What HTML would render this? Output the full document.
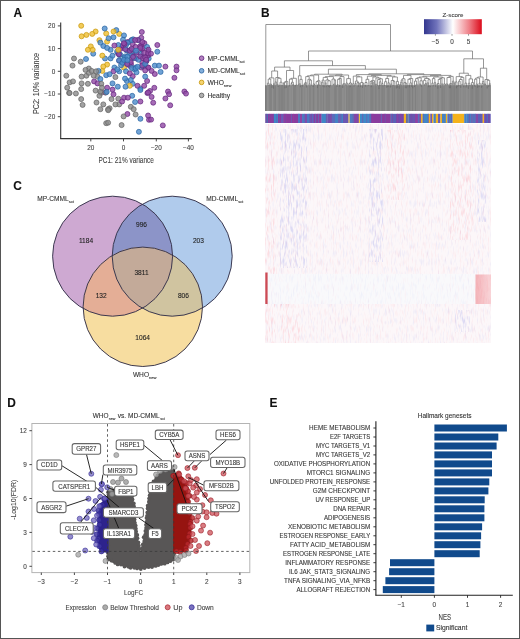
<!DOCTYPE html>
<html><head><meta charset="utf-8"><title>Figure</title>
<style>
html,body{margin:0;padding:0;background:#fff;}
body{width:520px;height:639px;overflow:hidden;}
svg{display:block;font-family:"Liberation Sans", sans-serif;will-change:transform;}
text{stroke-width:0.1px;}
</style></head><body>
<svg width="520" height="639" viewBox="0 0 520 639">
<rect width="520" height="639" fill="#fff"/>
<text x="13.5" y="17" font-size="11.9" fill="#111" stroke="#111" font-weight="bold">A</text>
<text x="261" y="16.9" font-size="11.9" fill="#111" stroke="#111" font-weight="bold">B</text>
<text x="13.2" y="190.3" font-size="11.9" fill="#111" stroke="#111" font-weight="bold">C</text>
<text x="7.2" y="406.6" font-size="11.9" fill="#111" stroke="#111" font-weight="bold">D</text>
<text x="269.6" y="406.8" font-size="11.9" fill="#111" stroke="#111" font-weight="bold">E</text>
<line x1="60.7" y1="22.4" x2="60.7" y2="139.1" stroke="#333" stroke-width="1.1"/>
<line x1="60.2" y1="138.6" x2="191.8" y2="138.6" stroke="#333" stroke-width="1.1"/>
<line x1="57.8" y1="25.9" x2="60.7" y2="25.9" stroke="#333" stroke-width="0.9"/>
<text x="55.2" y="28.2" font-size="6.4" fill="#444" stroke="#444" text-anchor="end">20</text>
<line x1="57.8" y1="48.6" x2="60.7" y2="48.6" stroke="#333" stroke-width="0.9"/>
<text x="55.2" y="50.9" font-size="6.4" fill="#444" stroke="#444" text-anchor="end">10</text>
<line x1="57.8" y1="71.3" x2="60.7" y2="71.3" stroke="#333" stroke-width="0.9"/>
<text x="55.2" y="73.6" font-size="6.4" fill="#444" stroke="#444" text-anchor="end">0</text>
<line x1="57.8" y1="94" x2="60.7" y2="94" stroke="#333" stroke-width="0.9"/>
<text x="55.2" y="96.3" font-size="6.4" fill="#444" stroke="#444" text-anchor="end">−10</text>
<line x1="57.8" y1="116.7" x2="60.7" y2="116.7" stroke="#333" stroke-width="0.9"/>
<text x="55.2" y="119" font-size="6.4" fill="#444" stroke="#444" text-anchor="end">−20</text>
<line x1="90.8" y1="138.6" x2="90.8" y2="141.4" stroke="#333" stroke-width="0.9"/>
<text x="90.8" y="150" font-size="6.4" fill="#444" stroke="#444" text-anchor="middle">20</text>
<line x1="123.5" y1="138.6" x2="123.5" y2="141.4" stroke="#333" stroke-width="0.9"/>
<text x="123.5" y="150" font-size="6.4" fill="#444" stroke="#444" text-anchor="middle">0</text>
<line x1="156.3" y1="138.6" x2="156.3" y2="141.4" stroke="#333" stroke-width="0.9"/>
<text x="156.3" y="150" font-size="6.4" fill="#444" stroke="#444" text-anchor="middle">−20</text>
<line x1="188.4" y1="138.6" x2="188.4" y2="141.4" stroke="#333" stroke-width="0.9"/>
<text x="188.4" y="150" font-size="6.4" fill="#444" stroke="#444" text-anchor="middle">−40</text>
<text x="126.2" y="162.6" font-size="8.4" fill="#444" stroke="#444" text-anchor="middle" textLength="55.3" lengthAdjust="spacingAndGlyphs">PC1: 21% variance</text>
<text transform="translate(38.8 83.5) rotate(-90)" x="0" y="0" font-size="8.8" fill="#444" stroke="#444" text-anchor="middle" textLength="61" lengthAdjust="spacingAndGlyphs">PC2: 10% variance</text>
<g stroke-width="0.75">
<circle cx="140.4" cy="88.7" r="2.5" fill="#4f8dcc" stroke="#2f69a6" fill-opacity="0.82"/>
<circle cx="107.1" cy="87.7" r="2.5" fill="#934ca6" stroke="#672a80" fill-opacity="0.82"/>
<circle cx="142.3" cy="62.7" r="2.5" fill="#934ca6" stroke="#672a80" fill-opacity="0.82"/>
<circle cx="118.3" cy="98.7" r="2.5" fill="#8e8e8e" stroke="#676767" fill-opacity="0.82"/>
<circle cx="97.5" cy="76.6" r="2.5" fill="#8e8e8e" stroke="#676767" fill-opacity="0.82"/>
<circle cx="87.9" cy="83.8" r="2.5" fill="#8e8e8e" stroke="#676767" fill-opacity="0.82"/>
<circle cx="145.9" cy="57.7" r="2.5" fill="#934ca6" stroke="#672a80" fill-opacity="0.82"/>
<circle cx="106.2" cy="123.2" r="2.5" fill="#8e8e8e" stroke="#676767" fill-opacity="0.82"/>
<circle cx="119.2" cy="33.9" r="2.5" fill="#efc034" stroke="#c99b12" fill-opacity="0.82"/>
<circle cx="146.3" cy="61.3" r="2.5" fill="#934ca6" stroke="#672a80" fill-opacity="0.82"/>
<circle cx="136.2" cy="58.4" r="2.5" fill="#934ca6" stroke="#672a80" fill-opacity="0.82"/>
<circle cx="129.9" cy="65.9" r="2.5" fill="#934ca6" stroke="#672a80" fill-opacity="0.82"/>
<circle cx="86.4" cy="75.7" r="2.5" fill="#8e8e8e" stroke="#676767" fill-opacity="0.82"/>
<circle cx="110.6" cy="49.8" r="2.5" fill="#4f8dcc" stroke="#2f69a6" fill-opacity="0.82"/>
<circle cx="110.6" cy="58.4" r="2.5" fill="#4f8dcc" stroke="#2f69a6" fill-opacity="0.82"/>
<circle cx="90.8" cy="46.4" r="2.5" fill="#efc034" stroke="#c99b12" fill-opacity="0.82"/>
<circle cx="126.6" cy="42.6" r="2.5" fill="#934ca6" stroke="#672a80" fill-opacity="0.82"/>
<circle cx="141.3" cy="37.8" r="2.5" fill="#934ca6" stroke="#672a80" fill-opacity="0.82"/>
<circle cx="147.4" cy="93.1" r="2.5" fill="#934ca6" stroke="#672a80" fill-opacity="0.82"/>
<circle cx="132.4" cy="53.5" r="2.5" fill="#934ca6" stroke="#672a80" fill-opacity="0.82"/>
<circle cx="119.4" cy="55.1" r="2.5" fill="#4f8dcc" stroke="#2f69a6" fill-opacity="0.82"/>
<circle cx="141.8" cy="32" r="2.5" fill="#934ca6" stroke="#672a80" fill-opacity="0.82"/>
<circle cx="114.4" cy="67.5" r="2.5" fill="#4f8dcc" stroke="#2f69a6" fill-opacity="0.82"/>
<circle cx="138.5" cy="59.8" r="2.5" fill="#4f8dcc" stroke="#2f69a6" fill-opacity="0.82"/>
<circle cx="142.2" cy="56.3" r="2.5" fill="#4f8dcc" stroke="#2f69a6" fill-opacity="0.82"/>
<circle cx="157.3" cy="45" r="2.5" fill="#934ca6" stroke="#672a80" fill-opacity="0.82"/>
<circle cx="100.4" cy="109.2" r="2.5" fill="#8e8e8e" stroke="#676767" fill-opacity="0.82"/>
<circle cx="69.6" cy="82.4" r="2.5" fill="#8e8e8e" stroke="#676767" fill-opacity="0.82"/>
<circle cx="148.4" cy="54.9" r="2.5" fill="#934ca6" stroke="#672a80" fill-opacity="0.82"/>
<circle cx="81.2" cy="25.8" r="2.5" fill="#efc034" stroke="#c99b12" fill-opacity="0.82"/>
<circle cx="113.5" cy="71.3" r="2.5" fill="#934ca6" stroke="#672a80" fill-opacity="0.82"/>
<circle cx="131.3" cy="40.2" r="2.5" fill="#934ca6" stroke="#672a80" fill-opacity="0.82"/>
<circle cx="113.5" cy="94.3" r="2.5" fill="#934ca6" stroke="#672a80" fill-opacity="0.82"/>
<circle cx="148.1" cy="51.7" r="2.5" fill="#934ca6" stroke="#672a80" fill-opacity="0.82"/>
<circle cx="81.6" cy="83.4" r="2.5" fill="#8e8e8e" stroke="#676767" fill-opacity="0.82"/>
<circle cx="131" cy="64.5" r="2.5" fill="#934ca6" stroke="#672a80" fill-opacity="0.82"/>
<circle cx="72.5" cy="65.6" r="2.5" fill="#8e8e8e" stroke="#676767" fill-opacity="0.82"/>
<circle cx="140.4" cy="118.8" r="2.5" fill="#4f8dcc" stroke="#2f69a6" fill-opacity="0.82"/>
<circle cx="127.9" cy="63.7" r="2.5" fill="#4f8dcc" stroke="#2f69a6" fill-opacity="0.82"/>
<circle cx="132.7" cy="83.8" r="2.5" fill="#4f8dcc" stroke="#2f69a6" fill-opacity="0.82"/>
<circle cx="125.1" cy="56.4" r="2.5" fill="#4f8dcc" stroke="#2f69a6" fill-opacity="0.82"/>
<circle cx="131.7" cy="58.8" r="2.5" fill="#934ca6" stroke="#672a80" fill-opacity="0.82"/>
<circle cx="122.1" cy="46.9" r="2.5" fill="#934ca6" stroke="#672a80" fill-opacity="0.82"/>
<circle cx="144" cy="65.6" r="2.5" fill="#934ca6" stroke="#672a80" fill-opacity="0.82"/>
<circle cx="100.4" cy="79" r="2.5" fill="#4f8dcc" stroke="#2f69a6" fill-opacity="0.82"/>
<circle cx="94.1" cy="81.4" r="2.5" fill="#934ca6" stroke="#672a80" fill-opacity="0.82"/>
<circle cx="120.4" cy="49" r="2.5" fill="#934ca6" stroke="#672a80" fill-opacity="0.82"/>
<circle cx="122.8" cy="45.4" r="2.5" fill="#934ca6" stroke="#672a80" fill-opacity="0.82"/>
<circle cx="154.3" cy="87.8" r="2.5" fill="#934ca6" stroke="#672a80" fill-opacity="0.82"/>
<circle cx="168" cy="91.5" r="2.5" fill="#934ca6" stroke="#672a80" fill-opacity="0.82"/>
<circle cx="124" cy="67.5" r="2.5" fill="#efc034" stroke="#c99b12" fill-opacity="0.82"/>
<circle cx="88.8" cy="72.8" r="2.5" fill="#8e8e8e" stroke="#676767" fill-opacity="0.82"/>
<circle cx="144.2" cy="85.8" r="2.5" fill="#934ca6" stroke="#672a80" fill-opacity="0.82"/>
<circle cx="107.1" cy="64.6" r="2.5" fill="#efc034" stroke="#c99b12" fill-opacity="0.82"/>
<circle cx="109.6" cy="108.3" r="2.5" fill="#8e8e8e" stroke="#676767" fill-opacity="0.82"/>
<circle cx="119.2" cy="104.4" r="2.5" fill="#8e8e8e" stroke="#676767" fill-opacity="0.82"/>
<circle cx="124.4" cy="58.1" r="2.5" fill="#4f8dcc" stroke="#2f69a6" fill-opacity="0.82"/>
<circle cx="106.2" cy="33.5" r="2.5" fill="#efc034" stroke="#c99b12" fill-opacity="0.82"/>
<circle cx="102.3" cy="70.9" r="2.5" fill="#efc034" stroke="#c99b12" fill-opacity="0.82"/>
<circle cx="174.4" cy="77.8" r="2.5" fill="#934ca6" stroke="#672a80" fill-opacity="0.82"/>
<circle cx="95.6" cy="90.6" r="2.5" fill="#8e8e8e" stroke="#676767" fill-opacity="0.82"/>
<circle cx="106.2" cy="75.2" r="2.5" fill="#4f8dcc" stroke="#2f69a6" fill-opacity="0.82"/>
<circle cx="130.8" cy="62.2" r="2.5" fill="#934ca6" stroke="#672a80" fill-opacity="0.82"/>
<circle cx="107.1" cy="41.6" r="2.5" fill="#efc034" stroke="#c99b12" fill-opacity="0.82"/>
<circle cx="145.9" cy="61.3" r="2.5" fill="#934ca6" stroke="#672a80" fill-opacity="0.82"/>
<circle cx="127.9" cy="50.8" r="2.5" fill="#934ca6" stroke="#672a80" fill-opacity="0.82"/>
<circle cx="131.8" cy="55.6" r="2.5" fill="#4f8dcc" stroke="#2f69a6" fill-opacity="0.82"/>
<circle cx="140.4" cy="101.5" r="2.5" fill="#934ca6" stroke="#672a80" fill-opacity="0.82"/>
<circle cx="148.1" cy="67.5" r="2.5" fill="#934ca6" stroke="#672a80" fill-opacity="0.82"/>
<circle cx="148.7" cy="58.5" r="2.5" fill="#4f8dcc" stroke="#2f69a6" fill-opacity="0.82"/>
<circle cx="73" cy="81.4" r="2.5" fill="#8e8e8e" stroke="#676767" fill-opacity="0.82"/>
<circle cx="86.4" cy="34.9" r="2.5" fill="#efc034" stroke="#c99b12" fill-opacity="0.82"/>
<circle cx="119.2" cy="60.8" r="2.5" fill="#934ca6" stroke="#672a80" fill-opacity="0.82"/>
<circle cx="103.3" cy="46" r="2.5" fill="#4f8dcc" stroke="#2f69a6" fill-opacity="0.82"/>
<circle cx="126.9" cy="81" r="2.5" fill="#4f8dcc" stroke="#2f69a6" fill-opacity="0.82"/>
<circle cx="134.4" cy="69.3" r="2.5" fill="#4f8dcc" stroke="#2f69a6" fill-opacity="0.82"/>
<circle cx="135.1" cy="102" r="2.5" fill="#4f8dcc" stroke="#2f69a6" fill-opacity="0.82"/>
<circle cx="162.8" cy="125.4" r="2.5" fill="#934ca6" stroke="#672a80" fill-opacity="0.82"/>
<circle cx="126.4" cy="50.3" r="2.5" fill="#4f8dcc" stroke="#2f69a6" fill-opacity="0.82"/>
<circle cx="141.4" cy="45.3" r="2.5" fill="#934ca6" stroke="#672a80" fill-opacity="0.82"/>
<circle cx="98.5" cy="70.9" r="2.5" fill="#4f8dcc" stroke="#2f69a6" fill-opacity="0.82"/>
<circle cx="141.9" cy="49.8" r="2.5" fill="#934ca6" stroke="#672a80" fill-opacity="0.82"/>
<circle cx="124" cy="60.8" r="2.5" fill="#4f8dcc" stroke="#2f69a6" fill-opacity="0.82"/>
<circle cx="131.8" cy="68" r="2.5" fill="#4f8dcc" stroke="#2f69a6" fill-opacity="0.82"/>
<circle cx="105" cy="58.5" r="2.5" fill="#4f8dcc" stroke="#2f69a6" fill-opacity="0.82"/>
<circle cx="88.8" cy="68.5" r="2.5" fill="#8e8e8e" stroke="#676767" fill-opacity="0.82"/>
<circle cx="135.6" cy="67.5" r="2.5" fill="#4f8dcc" stroke="#2f69a6" fill-opacity="0.82"/>
<circle cx="107.1" cy="47.9" r="2.5" fill="#4f8dcc" stroke="#2f69a6" fill-opacity="0.82"/>
<circle cx="138.5" cy="40.2" r="2.5" fill="#4f8dcc" stroke="#2f69a6" fill-opacity="0.82"/>
<circle cx="80.7" cy="61.7" r="2.5" fill="#8e8e8e" stroke="#676767" fill-opacity="0.82"/>
<circle cx="137.5" cy="85.8" r="2.5" fill="#934ca6" stroke="#672a80" fill-opacity="0.82"/>
<circle cx="119" cy="60.4" r="2.5" fill="#4f8dcc" stroke="#2f69a6" fill-opacity="0.82"/>
<circle cx="74" cy="58.5" r="2.5" fill="#8e8e8e" stroke="#676767" fill-opacity="0.82"/>
<circle cx="101" cy="92.9" r="2.5" fill="#8e8e8e" stroke="#676767" fill-opacity="0.82"/>
<circle cx="67.2" cy="87.7" r="2.5" fill="#8e8e8e" stroke="#676767" fill-opacity="0.82"/>
<circle cx="97.5" cy="83.4" r="2.5" fill="#934ca6" stroke="#672a80" fill-opacity="0.82"/>
<circle cx="105.2" cy="92.5" r="2.5" fill="#934ca6" stroke="#672a80" fill-opacity="0.82"/>
<circle cx="86" cy="59" r="2.5" fill="#4f8dcc" stroke="#2f69a6" fill-opacity="0.82"/>
<circle cx="136.5" cy="72.3" r="2.5" fill="#4f8dcc" stroke="#2f69a6" fill-opacity="0.82"/>
<circle cx="108.1" cy="109.2" r="2.5" fill="#8e8e8e" stroke="#676767" fill-opacity="0.82"/>
<circle cx="126" cy="71.3" r="2.5" fill="#4f8dcc" stroke="#2f69a6" fill-opacity="0.82"/>
<circle cx="150" cy="91" r="2.5" fill="#934ca6" stroke="#672a80" fill-opacity="0.82"/>
<circle cx="141.3" cy="67.5" r="2.5" fill="#934ca6" stroke="#672a80" fill-opacity="0.82"/>
<circle cx="138.9" cy="131.8" r="2.5" fill="#4f8dcc" stroke="#2f69a6" fill-opacity="0.82"/>
<circle cx="96.5" cy="102.5" r="2.5" fill="#8e8e8e" stroke="#676767" fill-opacity="0.82"/>
<circle cx="134" cy="57.8" r="2.5" fill="#4f8dcc" stroke="#2f69a6" fill-opacity="0.82"/>
<circle cx="99.4" cy="40.2" r="2.5" fill="#efc034" stroke="#c99b12" fill-opacity="0.82"/>
<circle cx="117.7" cy="52.8" r="2.5" fill="#934ca6" stroke="#672a80" fill-opacity="0.82"/>
<circle cx="141" cy="53.7" r="2.5" fill="#4f8dcc" stroke="#2f69a6" fill-opacity="0.82"/>
<circle cx="140.4" cy="56.5" r="2.5" fill="#934ca6" stroke="#672a80" fill-opacity="0.82"/>
<circle cx="126.9" cy="63.4" r="2.5" fill="#4f8dcc" stroke="#2f69a6" fill-opacity="0.82"/>
<circle cx="157.3" cy="51.7" r="2.5" fill="#4f8dcc" stroke="#2f69a6" fill-opacity="0.82"/>
<circle cx="102.3" cy="55.6" r="2.5" fill="#efc034" stroke="#c99b12" fill-opacity="0.82"/>
<circle cx="147.7" cy="55.6" r="2.5" fill="#934ca6" stroke="#672a80" fill-opacity="0.82"/>
<circle cx="122.1" cy="101.5" r="2.5" fill="#934ca6" stroke="#672a80" fill-opacity="0.82"/>
<circle cx="127.4" cy="114" r="2.5" fill="#934ca6" stroke="#672a80" fill-opacity="0.82"/>
<circle cx="132.7" cy="76.2" r="2.5" fill="#934ca6" stroke="#672a80" fill-opacity="0.82"/>
<circle cx="81.6" cy="76.6" r="2.5" fill="#8e8e8e" stroke="#676767" fill-opacity="0.82"/>
<circle cx="117.1" cy="51.4" r="2.5" fill="#4f8dcc" stroke="#2f69a6" fill-opacity="0.82"/>
<circle cx="130.7" cy="49.5" r="2.5" fill="#4f8dcc" stroke="#2f69a6" fill-opacity="0.82"/>
<circle cx="108.1" cy="122.7" r="2.5" fill="#8e8e8e" stroke="#676767" fill-opacity="0.82"/>
<circle cx="142.7" cy="66" r="2.5" fill="#4f8dcc" stroke="#2f69a6" fill-opacity="0.82"/>
<circle cx="123.6" cy="116.4" r="2.5" fill="#8e8e8e" stroke="#676767" fill-opacity="0.82"/>
<circle cx="125.6" cy="60.2" r="2.5" fill="#4f8dcc" stroke="#2f69a6" fill-opacity="0.82"/>
<circle cx="127.9" cy="42.1" r="2.5" fill="#934ca6" stroke="#672a80" fill-opacity="0.82"/>
<circle cx="112.5" cy="83.4" r="2.5" fill="#4f8dcc" stroke="#2f69a6" fill-opacity="0.82"/>
<circle cx="151.6" cy="96.9" r="2.5" fill="#934ca6" stroke="#672a80" fill-opacity="0.82"/>
<circle cx="125.3" cy="49.1" r="2.5" fill="#934ca6" stroke="#672a80" fill-opacity="0.82"/>
<circle cx="154.8" cy="74" r="2.5" fill="#934ca6" stroke="#672a80" fill-opacity="0.82"/>
<circle cx="176.5" cy="66.6" r="2.5" fill="#934ca6" stroke="#672a80" fill-opacity="0.82"/>
<circle cx="121.1" cy="65.2" r="2.5" fill="#4f8dcc" stroke="#2f69a6" fill-opacity="0.82"/>
<circle cx="148.1" cy="92.5" r="2.5" fill="#934ca6" stroke="#672a80" fill-opacity="0.82"/>
<circle cx="154.8" cy="65.6" r="2.5" fill="#4f8dcc" stroke="#2f69a6" fill-opacity="0.82"/>
<circle cx="142.7" cy="48.5" r="2.5" fill="#934ca6" stroke="#672a80" fill-opacity="0.82"/>
<circle cx="115.4" cy="77.1" r="2.5" fill="#8e8e8e" stroke="#676767" fill-opacity="0.82"/>
<circle cx="93.2" cy="53.7" r="2.5" fill="#4f8dcc" stroke="#2f69a6" fill-opacity="0.82"/>
<circle cx="169.1" cy="94.2" r="2.5" fill="#934ca6" stroke="#672a80" fill-opacity="0.82"/>
<circle cx="125" cy="78.6" r="2.5" fill="#4f8dcc" stroke="#2f69a6" fill-opacity="0.82"/>
<circle cx="112.5" cy="89.6" r="2.5" fill="#934ca6" stroke="#672a80" fill-opacity="0.82"/>
<circle cx="124" cy="35.4" r="2.5" fill="#4f8dcc" stroke="#2f69a6" fill-opacity="0.82"/>
<circle cx="100.4" cy="42.6" r="2.5" fill="#4f8dcc" stroke="#2f69a6" fill-opacity="0.82"/>
<circle cx="66.3" cy="75.7" r="2.5" fill="#8e8e8e" stroke="#676767" fill-opacity="0.82"/>
<circle cx="120.2" cy="54.6" r="2.5" fill="#4f8dcc" stroke="#2f69a6" fill-opacity="0.82"/>
<circle cx="91.7" cy="70.9" r="2.5" fill="#8e8e8e" stroke="#676767" fill-opacity="0.82"/>
<circle cx="87.9" cy="49.8" r="2.5" fill="#efc034" stroke="#c99b12" fill-opacity="0.82"/>
<circle cx="160.6" cy="71.9" r="2.5" fill="#4f8dcc" stroke="#2f69a6" fill-opacity="0.82"/>
<circle cx="123" cy="39.7" r="2.5" fill="#4f8dcc" stroke="#2f69a6" fill-opacity="0.82"/>
<circle cx="129.8" cy="85.8" r="2.5" fill="#efc034" stroke="#c99b12" fill-opacity="0.82"/>
<circle cx="82.6" cy="104.9" r="2.5" fill="#8e8e8e" stroke="#676767" fill-opacity="0.82"/>
<circle cx="148.5" cy="67.7" r="2.5" fill="#934ca6" stroke="#672a80" fill-opacity="0.82"/>
<circle cx="115.4" cy="104.4" r="2.5" fill="#8e8e8e" stroke="#676767" fill-opacity="0.82"/>
<circle cx="135.6" cy="114.5" r="2.5" fill="#8e8e8e" stroke="#676767" fill-opacity="0.82"/>
<circle cx="108.2" cy="110.2" r="2.5" fill="#8e8e8e" stroke="#676767" fill-opacity="0.82"/>
<circle cx="176.5" cy="70.3" r="2.5" fill="#934ca6" stroke="#672a80" fill-opacity="0.82"/>
<circle cx="140" cy="46.4" r="2.5" fill="#934ca6" stroke="#672a80" fill-opacity="0.82"/>
<circle cx="133.1" cy="39.3" r="2.5" fill="#4f8dcc" stroke="#2f69a6" fill-opacity="0.82"/>
<circle cx="132.7" cy="44" r="2.5" fill="#934ca6" stroke="#672a80" fill-opacity="0.82"/>
<circle cx="129.8" cy="53.7" r="2.5" fill="#4f8dcc" stroke="#2f69a6" fill-opacity="0.82"/>
<circle cx="118.9" cy="54.2" r="2.5" fill="#934ca6" stroke="#672a80" fill-opacity="0.82"/>
<circle cx="81.6" cy="36.3" r="2.5" fill="#efc034" stroke="#c99b12" fill-opacity="0.82"/>
<circle cx="99.4" cy="95.8" r="2.5" fill="#8e8e8e" stroke="#676767" fill-opacity="0.82"/>
<circle cx="144.2" cy="52.7" r="2.5" fill="#934ca6" stroke="#672a80" fill-opacity="0.82"/>
<circle cx="109.6" cy="74.2" r="2.5" fill="#4f8dcc" stroke="#2f69a6" fill-opacity="0.82"/>
<circle cx="95.6" cy="31.5" r="2.5" fill="#efc034" stroke="#c99b12" fill-opacity="0.82"/>
<circle cx="105.8" cy="92.5" r="2.5" fill="#8e8e8e" stroke="#676767" fill-opacity="0.82"/>
<circle cx="127.7" cy="42.8" r="2.5" fill="#4f8dcc" stroke="#2f69a6" fill-opacity="0.82"/>
<circle cx="136.1" cy="52.6" r="2.5" fill="#4f8dcc" stroke="#2f69a6" fill-opacity="0.82"/>
<circle cx="151.6" cy="70.9" r="2.5" fill="#934ca6" stroke="#672a80" fill-opacity="0.82"/>
<circle cx="130.8" cy="106.8" r="2.5" fill="#8e8e8e" stroke="#676767" fill-opacity="0.82"/>
<circle cx="133" cy="56.9" r="2.5" fill="#934ca6" stroke="#672a80" fill-opacity="0.82"/>
<circle cx="133.7" cy="109.2" r="2.5" fill="#8e8e8e" stroke="#676767" fill-opacity="0.82"/>
<circle cx="143.2" cy="58.2" r="2.5" fill="#934ca6" stroke="#672a80" fill-opacity="0.82"/>
<circle cx="184.4" cy="91.5" r="2.5" fill="#934ca6" stroke="#672a80" fill-opacity="0.82"/>
<circle cx="122.5" cy="62.7" r="2.5" fill="#4f8dcc" stroke="#2f69a6" fill-opacity="0.82"/>
<circle cx="130.8" cy="80" r="2.5" fill="#4f8dcc" stroke="#2f69a6" fill-opacity="0.82"/>
<circle cx="100.4" cy="91.5" r="2.5" fill="#8e8e8e" stroke="#676767" fill-opacity="0.82"/>
<circle cx="92.7" cy="49.8" r="2.5" fill="#efc034" stroke="#c99b12" fill-opacity="0.82"/>
<circle cx="144.4" cy="43.2" r="2.5" fill="#934ca6" stroke="#672a80" fill-opacity="0.82"/>
<circle cx="145.2" cy="70.4" r="2.5" fill="#934ca6" stroke="#672a80" fill-opacity="0.82"/>
<circle cx="159" cy="65.6" r="2.5" fill="#4f8dcc" stroke="#2f69a6" fill-opacity="0.82"/>
<circle cx="103.3" cy="66.5" r="2.5" fill="#efc034" stroke="#c99b12" fill-opacity="0.82"/>
<circle cx="101.3" cy="83.8" r="2.5" fill="#8e8e8e" stroke="#676767" fill-opacity="0.82"/>
<circle cx="186" cy="93.6" r="2.5" fill="#934ca6" stroke="#672a80" fill-opacity="0.82"/>
<circle cx="85.5" cy="69.9" r="2.5" fill="#8e8e8e" stroke="#676767" fill-opacity="0.82"/>
<circle cx="101.9" cy="87.7" r="2.5" fill="#8e8e8e" stroke="#676767" fill-opacity="0.82"/>
<circle cx="93.7" cy="75.7" r="2.5" fill="#8e8e8e" stroke="#676767" fill-opacity="0.82"/>
<circle cx="165.4" cy="98.5" r="2.5" fill="#934ca6" stroke="#672a80" fill-opacity="0.82"/>
<circle cx="96.1" cy="71.3" r="2.5" fill="#8e8e8e" stroke="#676767" fill-opacity="0.82"/>
<circle cx="148.2" cy="53.2" r="2.5" fill="#934ca6" stroke="#672a80" fill-opacity="0.82"/>
<circle cx="151" cy="53.7" r="2.5" fill="#934ca6" stroke="#672a80" fill-opacity="0.82"/>
<circle cx="112.5" cy="55.6" r="2.5" fill="#4f8dcc" stroke="#2f69a6" fill-opacity="0.82"/>
<circle cx="137.9" cy="40" r="2.5" fill="#934ca6" stroke="#672a80" fill-opacity="0.82"/>
<circle cx="126" cy="45" r="2.5" fill="#4f8dcc" stroke="#2f69a6" fill-opacity="0.82"/>
<circle cx="170.2" cy="105.3" r="2.5" fill="#934ca6" stroke="#672a80" fill-opacity="0.82"/>
<circle cx="142.1" cy="65.6" r="2.5" fill="#934ca6" stroke="#672a80" fill-opacity="0.82"/>
<circle cx="113.5" cy="37.3" r="2.5" fill="#4f8dcc" stroke="#2f69a6" fill-opacity="0.82"/>
<circle cx="124" cy="97.7" r="2.5" fill="#934ca6" stroke="#672a80" fill-opacity="0.82"/>
<circle cx="142.4" cy="42.1" r="2.5" fill="#934ca6" stroke="#672a80" fill-opacity="0.82"/>
<circle cx="92.2" cy="33.9" r="2.5" fill="#efc034" stroke="#c99b12" fill-opacity="0.82"/>
<circle cx="104.7" cy="28.5" r="2.5" fill="#4f8dcc" stroke="#2f69a6" fill-opacity="0.82"/>
<circle cx="118.3" cy="45" r="2.5" fill="#4f8dcc" stroke="#2f69a6" fill-opacity="0.82"/>
<circle cx="129.9" cy="50.8" r="2.5" fill="#934ca6" stroke="#672a80" fill-opacity="0.82"/>
<circle cx="165.4" cy="66.6" r="2.5" fill="#934ca6" stroke="#672a80" fill-opacity="0.82"/>
<circle cx="147.1" cy="46.9" r="2.5" fill="#4f8dcc" stroke="#2f69a6" fill-opacity="0.82"/>
<circle cx="75.9" cy="93.5" r="2.5" fill="#8e8e8e" stroke="#676767" fill-opacity="0.82"/>
<circle cx="132.2" cy="95.8" r="2.5" fill="#4f8dcc" stroke="#2f69a6" fill-opacity="0.82"/>
<circle cx="117.8" cy="86.7" r="2.5" fill="#4f8dcc" stroke="#2f69a6" fill-opacity="0.82"/>
<circle cx="81.2" cy="99.1" r="2.5" fill="#8e8e8e" stroke="#676767" fill-opacity="0.82"/>
<circle cx="103.3" cy="104.4" r="2.5" fill="#8e8e8e" stroke="#676767" fill-opacity="0.82"/>
<circle cx="135.6" cy="46.9" r="2.5" fill="#934ca6" stroke="#672a80" fill-opacity="0.82"/>
<circle cx="148.5" cy="49.7" r="2.5" fill="#934ca6" stroke="#672a80" fill-opacity="0.82"/>
<circle cx="127.4" cy="56.7" r="2.5" fill="#4f8dcc" stroke="#2f69a6" fill-opacity="0.82"/>
<circle cx="147.1" cy="81" r="2.5" fill="#934ca6" stroke="#672a80" fill-opacity="0.82"/>
<circle cx="69.1" cy="92.9" r="2.5" fill="#8e8e8e" stroke="#676767" fill-opacity="0.82"/>
<circle cx="140.4" cy="47.9" r="2.5" fill="#934ca6" stroke="#672a80" fill-opacity="0.82"/>
<circle cx="108.6" cy="38.3" r="2.5" fill="#4f8dcc" stroke="#2f69a6" fill-opacity="0.82"/>
<circle cx="114.4" cy="45.5" r="2.5" fill="#934ca6" stroke="#672a80" fill-opacity="0.82"/>
<circle cx="131.7" cy="48.8" r="2.5" fill="#934ca6" stroke="#672a80" fill-opacity="0.82"/>
<circle cx="118.3" cy="49.8" r="2.5" fill="#efc034" stroke="#c99b12" fill-opacity="0.82"/>
<circle cx="121.6" cy="125.1" r="2.5" fill="#8e8e8e" stroke="#676767" fill-opacity="0.82"/>
<circle cx="145.1" cy="63.8" r="2.5" fill="#4f8dcc" stroke="#2f69a6" fill-opacity="0.82"/>
<circle cx="153.2" cy="102.7" r="2.5" fill="#934ca6" stroke="#672a80" fill-opacity="0.82"/>
<circle cx="119.2" cy="71.3" r="2.5" fill="#4f8dcc" stroke="#2f69a6" fill-opacity="0.82"/>
<circle cx="145.2" cy="76.6" r="2.5" fill="#4f8dcc" stroke="#2f69a6" fill-opacity="0.82"/>
<circle cx="117.3" cy="69.4" r="2.5" fill="#4f8dcc" stroke="#2f69a6" fill-opacity="0.82"/>
<circle cx="149" cy="119.8" r="2.5" fill="#934ca6" stroke="#672a80" fill-opacity="0.82"/>
<circle cx="123.8" cy="59.8" r="2.5" fill="#4f8dcc" stroke="#2f69a6" fill-opacity="0.82"/>
<circle cx="116.3" cy="30.1" r="2.5" fill="#4f8dcc" stroke="#2f69a6" fill-opacity="0.82"/>
<circle cx="81.2" cy="89.1" r="2.5" fill="#8e8e8e" stroke="#676767" fill-opacity="0.82"/>
<circle cx="106.7" cy="91.9" r="2.5" fill="#4f8dcc" stroke="#2f69a6" fill-opacity="0.82"/>
<circle cx="127.2" cy="64.1" r="2.5" fill="#934ca6" stroke="#672a80" fill-opacity="0.82"/>
<circle cx="129.8" cy="73.3" r="2.5" fill="#934ca6" stroke="#672a80" fill-opacity="0.82"/>
<circle cx="136.5" cy="52.7" r="2.5" fill="#934ca6" stroke="#672a80" fill-opacity="0.82"/>
<circle cx="135.7" cy="68.5" r="2.5" fill="#4f8dcc" stroke="#2f69a6" fill-opacity="0.82"/>
<circle cx="137.6" cy="66.8" r="2.5" fill="#4f8dcc" stroke="#2f69a6" fill-opacity="0.82"/>
<circle cx="145.2" cy="57.5" r="2.5" fill="#934ca6" stroke="#672a80" fill-opacity="0.82"/>
<circle cx="151.1" cy="119.6" r="2.5" fill="#934ca6" stroke="#672a80" fill-opacity="0.82"/>
<circle cx="148.1" cy="115.5" r="2.5" fill="#934ca6" stroke="#672a80" fill-opacity="0.82"/>
<circle cx="136" cy="50.7" r="2.5" fill="#4f8dcc" stroke="#2f69a6" fill-opacity="0.82"/>
<circle cx="146.2" cy="59.8" r="2.5" fill="#934ca6" stroke="#672a80" fill-opacity="0.82"/>
<circle cx="124.5" cy="44.3" r="2.5" fill="#934ca6" stroke="#672a80" fill-opacity="0.82"/>
<circle cx="131.7" cy="40.2" r="2.5" fill="#4f8dcc" stroke="#2f69a6" fill-opacity="0.82"/>
<circle cx="140.4" cy="90" r="2.5" fill="#4f8dcc" stroke="#2f69a6" fill-opacity="0.82"/>
<circle cx="127.4" cy="60.2" r="2.5" fill="#4f8dcc" stroke="#2f69a6" fill-opacity="0.82"/>
<circle cx="113.5" cy="31.5" r="2.5" fill="#efc034" stroke="#c99b12" fill-opacity="0.82"/>
<circle cx="111.5" cy="99.1" r="2.5" fill="#8e8e8e" stroke="#676767" fill-opacity="0.82"/>
<circle cx="135.1" cy="40" r="2.5" fill="#934ca6" stroke="#672a80" fill-opacity="0.82"/>
<circle cx="69.6" cy="93" r="2.5" fill="#8e8e8e" stroke="#676767" fill-opacity="0.82"/>
<circle cx="127.9" cy="97.7" r="2.5" fill="#934ca6" stroke="#672a80" fill-opacity="0.82"/>
<circle cx="123.9" cy="43.2" r="2.5" fill="#934ca6" stroke="#672a80" fill-opacity="0.82"/>
<circle cx="125.5" cy="86.7" r="2.5" fill="#4f8dcc" stroke="#2f69a6" fill-opacity="0.82"/>
</g>
<circle cx="201.6" cy="58.2" r="2.3" fill="#934ca6" fill-opacity="0.7" stroke="#672a80" stroke-width="0.9"/>
<text x="207.5" y="60.6" font-size="6.7" fill="#333" stroke="#333">MP-CMML<tspan font-size="4.1" dy="2.0">sct</tspan></text>
<circle cx="201.6" cy="70.8" r="2.3" fill="#4f8dcc" fill-opacity="0.7" stroke="#2f69a6" stroke-width="0.9"/>
<text x="207.5" y="73.2" font-size="6.7" fill="#333" stroke="#333">MD-CMML<tspan font-size="4.1" dy="2.0">sct</tspan></text>
<circle cx="201.6" cy="82.4" r="2.3" fill="#efc034" fill-opacity="0.7" stroke="#c99b12" stroke-width="0.9"/>
<text x="207.5" y="84.8" font-size="6.7" fill="#333" stroke="#333">WHO<tspan font-size="4.1" dy="2.0">new</tspan></text>
<circle cx="201.6" cy="95.4" r="2.3" fill="#8e8e8e" fill-opacity="0.7" stroke="#676767" stroke-width="0.9"/>
<text x="207.5" y="97.8" font-size="6.7" fill="#333" stroke="#333">Healthy</text>
<rect x="265.3" y="85.3" width="225.5" height="25.7" fill="#878787"/>
<g stroke-width="0.7">
<line x1="265.5" y1="85.3" x2="265.5" y2="111" stroke="#808080"/>
<line x1="267.5" y1="85.3" x2="267.5" y2="111" stroke="#929292"/>
<line x1="268.8" y1="85.3" x2="268.8" y2="111" stroke="#929292"/>
<line x1="269.9" y1="85.3" x2="269.9" y2="111" stroke="#7c7c7c"/>
<line x1="271.2" y1="85.3" x2="271.2" y2="111" stroke="#808080"/>
<line x1="272.5" y1="85.3" x2="272.5" y2="111" stroke="#929292"/>
<line x1="274.3" y1="85.3" x2="274.3" y2="111" stroke="#808080"/>
<line x1="275.5" y1="85.3" x2="275.5" y2="111" stroke="#7c7c7c"/>
<line x1="276.7" y1="85.3" x2="276.7" y2="111" stroke="#8f8f8f"/>
<line x1="277.8" y1="85.3" x2="277.8" y2="111" stroke="#8f8f8f"/>
<line x1="279.2" y1="85.3" x2="279.2" y2="111" stroke="#7c7c7c"/>
<line x1="281.3" y1="85.3" x2="281.3" y2="111" stroke="#7c7c7c"/>
<line x1="282.7" y1="85.3" x2="282.7" y2="111" stroke="#7c7c7c"/>
<line x1="284.3" y1="85.3" x2="284.3" y2="111" stroke="#808080"/>
<line x1="286" y1="85.3" x2="286" y2="111" stroke="#8f8f8f"/>
<line x1="287.9" y1="85.3" x2="287.9" y2="111" stroke="#808080"/>
<line x1="289.8" y1="85.3" x2="289.8" y2="111" stroke="#929292"/>
<line x1="290.9" y1="85.3" x2="290.9" y2="111" stroke="#929292"/>
<line x1="292.5" y1="85.3" x2="292.5" y2="111" stroke="#929292"/>
<line x1="293.6" y1="85.3" x2="293.6" y2="111" stroke="#808080"/>
<line x1="295" y1="85.3" x2="295" y2="111" stroke="#7c7c7c"/>
<line x1="297.1" y1="85.3" x2="297.1" y2="111" stroke="#8f8f8f"/>
<line x1="298.2" y1="85.3" x2="298.2" y2="111" stroke="#8f8f8f"/>
<line x1="300.4" y1="85.3" x2="300.4" y2="111" stroke="#929292"/>
<line x1="301.4" y1="85.3" x2="301.4" y2="111" stroke="#7c7c7c"/>
<line x1="303.4" y1="85.3" x2="303.4" y2="111" stroke="#8f8f8f"/>
<line x1="305.3" y1="85.3" x2="305.3" y2="111" stroke="#8f8f8f"/>
<line x1="306.6" y1="85.3" x2="306.6" y2="111" stroke="#929292"/>
<line x1="308.7" y1="85.3" x2="308.7" y2="111" stroke="#929292"/>
<line x1="309.9" y1="85.3" x2="309.9" y2="111" stroke="#7c7c7c"/>
<line x1="312" y1="85.3" x2="312" y2="111" stroke="#929292"/>
<line x1="313.4" y1="85.3" x2="313.4" y2="111" stroke="#7c7c7c"/>
<line x1="315.3" y1="85.3" x2="315.3" y2="111" stroke="#929292"/>
<line x1="316.3" y1="85.3" x2="316.3" y2="111" stroke="#929292"/>
<line x1="317.9" y1="85.3" x2="317.9" y2="111" stroke="#7c7c7c"/>
<line x1="319.8" y1="85.3" x2="319.8" y2="111" stroke="#929292"/>
<line x1="321.1" y1="85.3" x2="321.1" y2="111" stroke="#808080"/>
<line x1="322.1" y1="85.3" x2="322.1" y2="111" stroke="#8f8f8f"/>
<line x1="323.6" y1="85.3" x2="323.6" y2="111" stroke="#808080"/>
<line x1="324.8" y1="85.3" x2="324.8" y2="111" stroke="#929292"/>
<line x1="326.9" y1="85.3" x2="326.9" y2="111" stroke="#7c7c7c"/>
<line x1="329" y1="85.3" x2="329" y2="111" stroke="#7c7c7c"/>
<line x1="331" y1="85.3" x2="331" y2="111" stroke="#929292"/>
<line x1="333" y1="85.3" x2="333" y2="111" stroke="#929292"/>
<line x1="335" y1="85.3" x2="335" y2="111" stroke="#7c7c7c"/>
<line x1="336.2" y1="85.3" x2="336.2" y2="111" stroke="#808080"/>
<line x1="337.3" y1="85.3" x2="337.3" y2="111" stroke="#929292"/>
<line x1="339.3" y1="85.3" x2="339.3" y2="111" stroke="#808080"/>
<line x1="340.9" y1="85.3" x2="340.9" y2="111" stroke="#7c7c7c"/>
<line x1="342.5" y1="85.3" x2="342.5" y2="111" stroke="#8f8f8f"/>
<line x1="343.8" y1="85.3" x2="343.8" y2="111" stroke="#929292"/>
<line x1="345.5" y1="85.3" x2="345.5" y2="111" stroke="#929292"/>
<line x1="346.5" y1="85.3" x2="346.5" y2="111" stroke="#808080"/>
<line x1="348.3" y1="85.3" x2="348.3" y2="111" stroke="#808080"/>
<line x1="349.5" y1="85.3" x2="349.5" y2="111" stroke="#808080"/>
<line x1="351.1" y1="85.3" x2="351.1" y2="111" stroke="#808080"/>
<line x1="352.2" y1="85.3" x2="352.2" y2="111" stroke="#808080"/>
<line x1="354.1" y1="85.3" x2="354.1" y2="111" stroke="#8f8f8f"/>
<line x1="355.7" y1="85.3" x2="355.7" y2="111" stroke="#8f8f8f"/>
<line x1="357.9" y1="85.3" x2="357.9" y2="111" stroke="#7c7c7c"/>
<line x1="360" y1="85.3" x2="360" y2="111" stroke="#808080"/>
<line x1="361.1" y1="85.3" x2="361.1" y2="111" stroke="#929292"/>
<line x1="363.3" y1="85.3" x2="363.3" y2="111" stroke="#8f8f8f"/>
<line x1="365.4" y1="85.3" x2="365.4" y2="111" stroke="#8f8f8f"/>
<line x1="367.1" y1="85.3" x2="367.1" y2="111" stroke="#929292"/>
<line x1="368.3" y1="85.3" x2="368.3" y2="111" stroke="#8f8f8f"/>
<line x1="369.7" y1="85.3" x2="369.7" y2="111" stroke="#929292"/>
<line x1="371.2" y1="85.3" x2="371.2" y2="111" stroke="#7c7c7c"/>
<line x1="372.8" y1="85.3" x2="372.8" y2="111" stroke="#7c7c7c"/>
<line x1="374.1" y1="85.3" x2="374.1" y2="111" stroke="#8f8f8f"/>
<line x1="375.6" y1="85.3" x2="375.6" y2="111" stroke="#808080"/>
<line x1="377.6" y1="85.3" x2="377.6" y2="111" stroke="#8f8f8f"/>
<line x1="379.3" y1="85.3" x2="379.3" y2="111" stroke="#808080"/>
<line x1="380.8" y1="85.3" x2="380.8" y2="111" stroke="#929292"/>
<line x1="382.1" y1="85.3" x2="382.1" y2="111" stroke="#7c7c7c"/>
<line x1="384.1" y1="85.3" x2="384.1" y2="111" stroke="#808080"/>
<line x1="385.5" y1="85.3" x2="385.5" y2="111" stroke="#929292"/>
<line x1="386.8" y1="85.3" x2="386.8" y2="111" stroke="#929292"/>
<line x1="387.9" y1="85.3" x2="387.9" y2="111" stroke="#7c7c7c"/>
<line x1="388.9" y1="85.3" x2="388.9" y2="111" stroke="#808080"/>
<line x1="390.8" y1="85.3" x2="390.8" y2="111" stroke="#929292"/>
<line x1="392.5" y1="85.3" x2="392.5" y2="111" stroke="#7c7c7c"/>
<line x1="394.5" y1="85.3" x2="394.5" y2="111" stroke="#7c7c7c"/>
<line x1="396" y1="85.3" x2="396" y2="111" stroke="#8f8f8f"/>
<line x1="398" y1="85.3" x2="398" y2="111" stroke="#7c7c7c"/>
<line x1="400.1" y1="85.3" x2="400.1" y2="111" stroke="#7c7c7c"/>
<line x1="401.6" y1="85.3" x2="401.6" y2="111" stroke="#7c7c7c"/>
<line x1="403.5" y1="85.3" x2="403.5" y2="111" stroke="#7c7c7c"/>
<line x1="404.7" y1="85.3" x2="404.7" y2="111" stroke="#929292"/>
<line x1="406" y1="85.3" x2="406" y2="111" stroke="#929292"/>
<line x1="408.1" y1="85.3" x2="408.1" y2="111" stroke="#808080"/>
<line x1="409.6" y1="85.3" x2="409.6" y2="111" stroke="#7c7c7c"/>
<line x1="411.3" y1="85.3" x2="411.3" y2="111" stroke="#929292"/>
<line x1="412.4" y1="85.3" x2="412.4" y2="111" stroke="#7c7c7c"/>
<line x1="414.1" y1="85.3" x2="414.1" y2="111" stroke="#929292"/>
<line x1="415.5" y1="85.3" x2="415.5" y2="111" stroke="#7c7c7c"/>
<line x1="416.9" y1="85.3" x2="416.9" y2="111" stroke="#8f8f8f"/>
<line x1="419" y1="85.3" x2="419" y2="111" stroke="#929292"/>
<line x1="420.5" y1="85.3" x2="420.5" y2="111" stroke="#929292"/>
<line x1="421.8" y1="85.3" x2="421.8" y2="111" stroke="#808080"/>
<line x1="423.2" y1="85.3" x2="423.2" y2="111" stroke="#8f8f8f"/>
<line x1="424.8" y1="85.3" x2="424.8" y2="111" stroke="#8f8f8f"/>
<line x1="426" y1="85.3" x2="426" y2="111" stroke="#8f8f8f"/>
<line x1="428" y1="85.3" x2="428" y2="111" stroke="#7c7c7c"/>
<line x1="429.5" y1="85.3" x2="429.5" y2="111" stroke="#808080"/>
<line x1="431.4" y1="85.3" x2="431.4" y2="111" stroke="#8f8f8f"/>
<line x1="433.2" y1="85.3" x2="433.2" y2="111" stroke="#8f8f8f"/>
<line x1="434.4" y1="85.3" x2="434.4" y2="111" stroke="#929292"/>
<line x1="436" y1="85.3" x2="436" y2="111" stroke="#929292"/>
<line x1="438.2" y1="85.3" x2="438.2" y2="111" stroke="#808080"/>
<line x1="439.3" y1="85.3" x2="439.3" y2="111" stroke="#8f8f8f"/>
<line x1="440.5" y1="85.3" x2="440.5" y2="111" stroke="#8f8f8f"/>
<line x1="442.4" y1="85.3" x2="442.4" y2="111" stroke="#808080"/>
<line x1="444.1" y1="85.3" x2="444.1" y2="111" stroke="#808080"/>
<line x1="446" y1="85.3" x2="446" y2="111" stroke="#8f8f8f"/>
<line x1="447.3" y1="85.3" x2="447.3" y2="111" stroke="#8f8f8f"/>
<line x1="448.9" y1="85.3" x2="448.9" y2="111" stroke="#8f8f8f"/>
<line x1="450.3" y1="85.3" x2="450.3" y2="111" stroke="#7c7c7c"/>
<line x1="451.7" y1="85.3" x2="451.7" y2="111" stroke="#7c7c7c"/>
<line x1="453.3" y1="85.3" x2="453.3" y2="111" stroke="#808080"/>
<line x1="454.6" y1="85.3" x2="454.6" y2="111" stroke="#7c7c7c"/>
<line x1="456.7" y1="85.3" x2="456.7" y2="111" stroke="#7c7c7c"/>
<line x1="458" y1="85.3" x2="458" y2="111" stroke="#808080"/>
<line x1="459.4" y1="85.3" x2="459.4" y2="111" stroke="#8f8f8f"/>
<line x1="461.3" y1="85.3" x2="461.3" y2="111" stroke="#929292"/>
<line x1="462.8" y1="85.3" x2="462.8" y2="111" stroke="#929292"/>
<line x1="464.9" y1="85.3" x2="464.9" y2="111" stroke="#8f8f8f"/>
<line x1="466.4" y1="85.3" x2="466.4" y2="111" stroke="#929292"/>
<line x1="467.7" y1="85.3" x2="467.7" y2="111" stroke="#8f8f8f"/>
<line x1="469.3" y1="85.3" x2="469.3" y2="111" stroke="#929292"/>
<line x1="471.3" y1="85.3" x2="471.3" y2="111" stroke="#808080"/>
<line x1="472.8" y1="85.3" x2="472.8" y2="111" stroke="#7c7c7c"/>
<line x1="474.1" y1="85.3" x2="474.1" y2="111" stroke="#8f8f8f"/>
<line x1="476.2" y1="85.3" x2="476.2" y2="111" stroke="#7c7c7c"/>
<line x1="477.2" y1="85.3" x2="477.2" y2="111" stroke="#7c7c7c"/>
<line x1="478.7" y1="85.3" x2="478.7" y2="111" stroke="#808080"/>
<line x1="480.2" y1="85.3" x2="480.2" y2="111" stroke="#929292"/>
<line x1="482" y1="85.3" x2="482" y2="111" stroke="#808080"/>
<line x1="484.1" y1="85.3" x2="484.1" y2="111" stroke="#8f8f8f"/>
<line x1="486" y1="85.3" x2="486" y2="111" stroke="#8f8f8f"/>
<line x1="487.2" y1="85.3" x2="487.2" y2="111" stroke="#929292"/>
<line x1="489.1" y1="85.3" x2="489.1" y2="111" stroke="#8f8f8f"/>
<line x1="490.3" y1="85.3" x2="490.3" y2="111" stroke="#808080"/>
</g>
<g stroke="#6a6a6a" stroke-width="0.7" fill="none">
<line x1="265.8" y1="24.5" x2="390.5" y2="24.5"/>
<line x1="265.8" y1="24.5" x2="265.8" y2="111"/>
<line x1="390.5" y1="24.5" x2="390.5" y2="51"/>
<line x1="308.5" y1="51" x2="472.5" y2="51"/>
<line x1="308.5" y1="51" x2="308.5" y2="60.8"/>
<line x1="472.5" y1="51" x2="472.5" y2="58.8"/>
<line x1="284.4" y1="60.8" x2="332.5" y2="60.8"/>
<line x1="284.4" y1="60.8" x2="284.4" y2="67.1"/>
<line x1="332.5" y1="60.8" x2="332.5" y2="65.6"/>
<line x1="267.4" y1="83.2" x2="267.4" y2="85.5"/>
<line x1="268.5" y1="85" x2="268.5" y2="85.5"/>
<line x1="269.5" y1="85" x2="269.5" y2="85.5"/>
<line x1="268.5" y1="85" x2="269.5" y2="85"/>
<line x1="269" y1="83.2" x2="269" y2="85"/>
<line x1="267.4" y1="83.2" x2="269" y2="83.2"/>
<line x1="268.2" y1="79.1" x2="268.2" y2="83.2"/>
<line x1="270.2" y1="84.1" x2="270.2" y2="85.5"/>
<line x1="270.9" y1="84.9" x2="270.9" y2="85.5"/>
<line x1="271.6" y1="87.3" x2="271.6" y2="87.3"/>
<line x1="272.4" y1="87.3" x2="272.4" y2="87.3"/>
<line x1="271.6" y1="87.3" x2="272.4" y2="87.3"/>
<line x1="272" y1="84.9" x2="272" y2="87.3"/>
<line x1="270.9" y1="84.9" x2="272" y2="84.9"/>
<line x1="271.4" y1="84.1" x2="271.4" y2="84.9"/>
<line x1="270.2" y1="84.1" x2="271.4" y2="84.1"/>
<line x1="270.8" y1="79.1" x2="270.8" y2="84.1"/>
<line x1="268.2" y1="79.1" x2="270.8" y2="79.1"/>
<line x1="269.5" y1="77.9" x2="269.5" y2="79.1"/>
<line x1="273.1" y1="88.2" x2="273.1" y2="88.2"/>
<line x1="273.9" y1="88.2" x2="273.9" y2="88.2"/>
<line x1="273.1" y1="88.2" x2="273.9" y2="88.2"/>
<line x1="273.5" y1="83.6" x2="273.5" y2="88.2"/>
<line x1="274.3" y1="83.6" x2="274.3" y2="85.5"/>
<line x1="273.5" y1="83.6" x2="274.3" y2="83.6"/>
<line x1="273.9" y1="77.9" x2="273.9" y2="83.6"/>
<line x1="269.5" y1="77.9" x2="273.9" y2="77.9"/>
<line x1="271.7" y1="71" x2="271.7" y2="77.9"/>
<line x1="275.2" y1="81.9" x2="275.2" y2="85.5"/>
<line x1="276.4" y1="81.9" x2="276.4" y2="85.5"/>
<line x1="275.2" y1="81.9" x2="276.4" y2="81.9"/>
<line x1="275.8" y1="77.5" x2="275.8" y2="81.9"/>
<line x1="277.2" y1="84.3" x2="277.2" y2="85.5"/>
<line x1="277.8" y1="86.4" x2="277.8" y2="86.4"/>
<line x1="278.5" y1="86.4" x2="278.5" y2="86.4"/>
<line x1="277.8" y1="86.4" x2="278.5" y2="86.4"/>
<line x1="278.1" y1="84.3" x2="278.1" y2="86.4"/>
<line x1="277.2" y1="84.3" x2="278.1" y2="84.3"/>
<line x1="277.7" y1="78.3" x2="277.7" y2="84.3"/>
<line x1="279.4" y1="85.1" x2="279.4" y2="85.5"/>
<line x1="280.5" y1="85.1" x2="280.5" y2="85.5"/>
<line x1="279.4" y1="85.1" x2="280.5" y2="85.1"/>
<line x1="280" y1="82.2" x2="280" y2="85.1"/>
<line x1="281.5" y1="85.4" x2="281.5" y2="85.5"/>
<line x1="282.5" y1="85.4" x2="282.5" y2="85.5"/>
<line x1="281.5" y1="85.4" x2="282.5" y2="85.4"/>
<line x1="282" y1="82.2" x2="282" y2="85.4"/>
<line x1="280" y1="82.2" x2="282" y2="82.2"/>
<line x1="281" y1="78.3" x2="281" y2="82.2"/>
<line x1="277.7" y1="78.3" x2="281" y2="78.3"/>
<line x1="279.3" y1="77.5" x2="279.3" y2="78.3"/>
<line x1="275.8" y1="77.5" x2="279.3" y2="77.5"/>
<line x1="277.6" y1="71" x2="277.6" y2="77.5"/>
<line x1="271.7" y1="71" x2="277.6" y2="71"/>
<line x1="283.4" y1="83" x2="283.4" y2="85.5"/>
<line x1="284.1" y1="84.8" x2="284.1" y2="85.5"/>
<line x1="284.6" y1="88" x2="284.6" y2="88"/>
<line x1="285.3" y1="88" x2="285.3" y2="88"/>
<line x1="284.6" y1="88" x2="285.3" y2="88"/>
<line x1="284.9" y1="84.8" x2="284.9" y2="88"/>
<line x1="284.1" y1="84.8" x2="284.9" y2="84.8"/>
<line x1="284.5" y1="83" x2="284.5" y2="84.8"/>
<line x1="283.4" y1="83" x2="284.5" y2="83"/>
<line x1="284" y1="82.2" x2="284" y2="83"/>
<line x1="286" y1="87.3" x2="286" y2="87.3"/>
<line x1="286.8" y1="87.3" x2="286.8" y2="87.3"/>
<line x1="286" y1="87.3" x2="286.8" y2="87.3"/>
<line x1="286.4" y1="82.2" x2="286.4" y2="87.3"/>
<line x1="284" y1="82.2" x2="286.4" y2="82.2"/>
<line x1="285.2" y1="81.4" x2="285.2" y2="82.2"/>
<line x1="287.8" y1="81.4" x2="287.8" y2="85.5"/>
<line x1="285.2" y1="81.4" x2="287.8" y2="81.4"/>
<line x1="286.5" y1="70.5" x2="286.5" y2="81.4"/>
<line x1="288.8" y1="86" x2="288.8" y2="86"/>
<line x1="289.9" y1="86" x2="289.9" y2="86"/>
<line x1="288.8" y1="86" x2="289.9" y2="86"/>
<line x1="289.4" y1="79.1" x2="289.4" y2="86"/>
<line x1="291" y1="83.5" x2="291" y2="85.5"/>
<line x1="292" y1="83.5" x2="292" y2="85.5"/>
<line x1="291" y1="83.5" x2="292" y2="83.5"/>
<line x1="291.5" y1="82.3" x2="291.5" y2="83.5"/>
<line x1="292.8" y1="84.7" x2="292.8" y2="85.5"/>
<line x1="293.6" y1="85.5" x2="293.6" y2="85.5"/>
<line x1="294.4" y1="85.5" x2="294.4" y2="85.5"/>
<line x1="293.6" y1="85.5" x2="294.4" y2="85.5"/>
<line x1="294" y1="84.7" x2="294" y2="85.5"/>
<line x1="292.8" y1="84.7" x2="294" y2="84.7"/>
<line x1="293.4" y1="82.3" x2="293.4" y2="84.7"/>
<line x1="291.5" y1="82.3" x2="293.4" y2="82.3"/>
<line x1="292.4" y1="79.1" x2="292.4" y2="82.3"/>
<line x1="289.4" y1="79.1" x2="292.4" y2="79.1"/>
<line x1="290.9" y1="78.3" x2="290.9" y2="79.1"/>
<line x1="295.1" y1="85.8" x2="295.1" y2="85.8"/>
<line x1="296" y1="85.8" x2="296" y2="85.8"/>
<line x1="295.1" y1="85.8" x2="296" y2="85.8"/>
<line x1="295.6" y1="85" x2="295.6" y2="85.8"/>
<line x1="297" y1="85" x2="297" y2="85.5"/>
<line x1="295.6" y1="85" x2="297" y2="85"/>
<line x1="296.3" y1="78.3" x2="296.3" y2="85"/>
<line x1="290.9" y1="78.3" x2="296.3" y2="78.3"/>
<line x1="293.6" y1="70.5" x2="293.6" y2="78.3"/>
<line x1="286.5" y1="70.5" x2="293.6" y2="70.5"/>
<line x1="274.6" y1="67.1" x2="290" y2="67.1"/>
<line x1="274.6" y1="67.1" x2="274.6" y2="71"/>
<line x1="290" y1="67.1" x2="290" y2="70.5"/>
<line x1="298" y1="84.6" x2="298" y2="85.5"/>
<line x1="298.8" y1="84.6" x2="298.8" y2="85.5"/>
<line x1="298" y1="84.6" x2="298.8" y2="84.6"/>
<line x1="298.4" y1="75.8" x2="298.4" y2="84.6"/>
<line x1="299.4" y1="83.7" x2="299.4" y2="85.5"/>
<line x1="300" y1="86.8" x2="300" y2="86.8"/>
<line x1="300.9" y1="86.8" x2="300.9" y2="86.8"/>
<line x1="300" y1="86.8" x2="300.9" y2="86.8"/>
<line x1="300.4" y1="83.7" x2="300.4" y2="86.8"/>
<line x1="299.4" y1="83.7" x2="300.4" y2="83.7"/>
<line x1="299.9" y1="79.4" x2="299.9" y2="83.7"/>
<line x1="301.7" y1="85.2" x2="301.7" y2="85.5"/>
<line x1="302.2" y1="86.1" x2="302.2" y2="86.1"/>
<line x1="303" y1="86.1" x2="303" y2="86.1"/>
<line x1="302.2" y1="86.1" x2="303" y2="86.1"/>
<line x1="302.6" y1="85.2" x2="302.6" y2="86.1"/>
<line x1="301.7" y1="85.2" x2="302.6" y2="85.2"/>
<line x1="302.2" y1="79.4" x2="302.2" y2="85.2"/>
<line x1="299.9" y1="79.4" x2="302.2" y2="79.4"/>
<line x1="301.1" y1="75.8" x2="301.1" y2="79.4"/>
<line x1="298.4" y1="75.8" x2="301.1" y2="75.8"/>
<line x1="299.7" y1="65.6" x2="365.4" y2="65.6"/>
<line x1="299.7" y1="65.6" x2="299.7" y2="75.8"/>
<line x1="365.4" y1="65.6" x2="365.4" y2="69.2"/>
<line x1="303.8" y1="84.5" x2="303.8" y2="85.5"/>
<line x1="304.7" y1="84.5" x2="304.7" y2="85.5"/>
<line x1="303.8" y1="84.5" x2="304.7" y2="84.5"/>
<line x1="304.3" y1="83.4" x2="304.3" y2="84.5"/>
<line x1="305.5" y1="83.4" x2="305.5" y2="85.5"/>
<line x1="304.3" y1="83.4" x2="305.5" y2="83.4"/>
<line x1="304.9" y1="82.6" x2="304.9" y2="83.4"/>
<line x1="306" y1="87.1" x2="306" y2="87.1"/>
<line x1="306.8" y1="87.1" x2="306.8" y2="87.1"/>
<line x1="306" y1="87.1" x2="306.8" y2="87.1"/>
<line x1="306.4" y1="82.6" x2="306.4" y2="87.1"/>
<line x1="304.9" y1="82.6" x2="306.4" y2="82.6"/>
<line x1="305.7" y1="76.6" x2="305.7" y2="82.6"/>
<line x1="307.9" y1="79.3" x2="307.9" y2="85.5"/>
<line x1="309.1" y1="83.8" x2="309.1" y2="85.5"/>
<line x1="310.1" y1="83.8" x2="310.1" y2="85.5"/>
<line x1="309.1" y1="83.8" x2="310.1" y2="83.8"/>
<line x1="309.6" y1="80.1" x2="309.6" y2="83.8"/>
<line x1="311" y1="85.3" x2="311" y2="85.5"/>
<line x1="311.8" y1="85.3" x2="311.8" y2="85.5"/>
<line x1="311" y1="85.3" x2="311.8" y2="85.3"/>
<line x1="311.4" y1="80.1" x2="311.4" y2="85.3"/>
<line x1="309.6" y1="80.1" x2="311.4" y2="80.1"/>
<line x1="310.5" y1="79.3" x2="310.5" y2="80.1"/>
<line x1="307.9" y1="79.3" x2="310.5" y2="79.3"/>
<line x1="309.2" y1="76.6" x2="309.2" y2="79.3"/>
<line x1="305.7" y1="76.6" x2="309.2" y2="76.6"/>
<line x1="307.4" y1="75.8" x2="307.4" y2="76.6"/>
<line x1="312.8" y1="86.4" x2="312.8" y2="86.4"/>
<line x1="313.6" y1="86.4" x2="313.6" y2="86.4"/>
<line x1="312.8" y1="86.4" x2="313.6" y2="86.4"/>
<line x1="313.2" y1="83.9" x2="313.2" y2="86.4"/>
<line x1="314.1" y1="84.8" x2="314.1" y2="85.5"/>
<line x1="314.9" y1="84.8" x2="314.9" y2="85.5"/>
<line x1="314.1" y1="84.8" x2="314.9" y2="84.8"/>
<line x1="314.5" y1="83.9" x2="314.5" y2="84.8"/>
<line x1="313.2" y1="83.9" x2="314.5" y2="83.9"/>
<line x1="313.8" y1="75.8" x2="313.8" y2="83.9"/>
<line x1="307.4" y1="75.8" x2="313.8" y2="75.8"/>
<line x1="310.6" y1="75" x2="310.6" y2="75.8"/>
<line x1="316.1" y1="81.6" x2="316.1" y2="85.5"/>
<line x1="317.1" y1="87.6" x2="317.1" y2="87.6"/>
<line x1="317.9" y1="87.6" x2="317.9" y2="87.6"/>
<line x1="317.1" y1="87.6" x2="317.9" y2="87.6"/>
<line x1="317.5" y1="85" x2="317.5" y2="87.6"/>
<line x1="318.5" y1="85" x2="318.5" y2="85.5"/>
<line x1="317.5" y1="85" x2="318.5" y2="85"/>
<line x1="318" y1="84.2" x2="318" y2="85"/>
<line x1="319" y1="84.2" x2="319" y2="85.5"/>
<line x1="318" y1="84.2" x2="319" y2="84.2"/>
<line x1="318.5" y1="81.6" x2="318.5" y2="84.2"/>
<line x1="316.1" y1="81.6" x2="318.5" y2="81.6"/>
<line x1="317.3" y1="80.8" x2="317.3" y2="81.6"/>
<line x1="319.6" y1="85.4" x2="319.6" y2="85.5"/>
<line x1="320.4" y1="85.4" x2="320.4" y2="85.5"/>
<line x1="319.6" y1="85.4" x2="320.4" y2="85.4"/>
<line x1="320" y1="80.8" x2="320" y2="85.4"/>
<line x1="317.3" y1="80.8" x2="320" y2="80.8"/>
<line x1="318.6" y1="75" x2="318.6" y2="80.8"/>
<line x1="310.6" y1="75" x2="318.6" y2="75"/>
<line x1="314.6" y1="74.2" x2="314.6" y2="75"/>
<line x1="321.5" y1="82.2" x2="321.5" y2="85.5"/>
<line x1="322.5" y1="86.1" x2="322.5" y2="86.1"/>
<line x1="323.3" y1="86.1" x2="323.3" y2="86.1"/>
<line x1="322.5" y1="86.1" x2="323.3" y2="86.1"/>
<line x1="322.9" y1="82.2" x2="322.9" y2="86.1"/>
<line x1="321.5" y1="82.2" x2="322.9" y2="82.2"/>
<line x1="322.2" y1="80.1" x2="322.2" y2="82.2"/>
<line x1="323.8" y1="87" x2="323.8" y2="87"/>
<line x1="324.5" y1="87" x2="324.5" y2="87"/>
<line x1="323.8" y1="87" x2="324.5" y2="87"/>
<line x1="324.1" y1="80.1" x2="324.1" y2="87"/>
<line x1="322.2" y1="80.1" x2="324.1" y2="80.1"/>
<line x1="323.2" y1="77.4" x2="323.2" y2="80.1"/>
<line x1="325.3" y1="82.9" x2="325.3" y2="85.5"/>
<line x1="325.9" y1="86.8" x2="325.9" y2="86.8"/>
<line x1="326.5" y1="86.8" x2="326.5" y2="86.8"/>
<line x1="325.9" y1="86.8" x2="326.5" y2="86.8"/>
<line x1="326.2" y1="82.9" x2="326.2" y2="86.8"/>
<line x1="325.3" y1="82.9" x2="326.2" y2="82.9"/>
<line x1="325.8" y1="80" x2="325.8" y2="82.9"/>
<line x1="327.3" y1="85.5" x2="327.3" y2="85.5"/>
<line x1="328.1" y1="86.5" x2="328.1" y2="86.5"/>
<line x1="328.7" y1="86.5" x2="328.7" y2="86.5"/>
<line x1="328.1" y1="86.5" x2="328.7" y2="86.5"/>
<line x1="328.4" y1="85.5" x2="328.4" y2="86.5"/>
<line x1="327.3" y1="85.5" x2="328.4" y2="85.5"/>
<line x1="327.9" y1="80.8" x2="327.9" y2="85.5"/>
<line x1="329.3" y1="87.1" x2="329.3" y2="87.1"/>
<line x1="330.1" y1="87.1" x2="330.1" y2="87.1"/>
<line x1="329.3" y1="87.1" x2="330.1" y2="87.1"/>
<line x1="329.7" y1="85.3" x2="329.7" y2="87.1"/>
<line x1="330.9" y1="85.3" x2="330.9" y2="85.5"/>
<line x1="329.7" y1="85.3" x2="330.9" y2="85.3"/>
<line x1="330.3" y1="80.8" x2="330.3" y2="85.3"/>
<line x1="327.9" y1="80.8" x2="330.3" y2="80.8"/>
<line x1="329.1" y1="80" x2="329.1" y2="80.8"/>
<line x1="325.8" y1="80" x2="329.1" y2="80"/>
<line x1="327.4" y1="77.4" x2="327.4" y2="80"/>
<line x1="323.2" y1="77.4" x2="327.4" y2="77.4"/>
<line x1="325.3" y1="76.6" x2="325.3" y2="77.4"/>
<line x1="332" y1="79.1" x2="332" y2="85.5"/>
<line x1="333.1" y1="84.8" x2="333.1" y2="85.5"/>
<line x1="334.1" y1="84.8" x2="334.1" y2="85.5"/>
<line x1="333.1" y1="84.8" x2="334.1" y2="84.8"/>
<line x1="333.6" y1="84" x2="333.6" y2="84.8"/>
<line x1="334.8" y1="84" x2="334.8" y2="85.5"/>
<line x1="333.6" y1="84" x2="334.8" y2="84"/>
<line x1="334.2" y1="80" x2="334.2" y2="84"/>
<line x1="335.6" y1="80" x2="335.6" y2="85.5"/>
<line x1="334.2" y1="80" x2="335.6" y2="80"/>
<line x1="334.9" y1="79.1" x2="334.9" y2="80"/>
<line x1="332" y1="79.1" x2="334.9" y2="79.1"/>
<line x1="333.4" y1="76.6" x2="333.4" y2="79.1"/>
<line x1="325.3" y1="76.6" x2="333.4" y2="76.6"/>
<line x1="329.4" y1="75.8" x2="329.4" y2="76.6"/>
<line x1="336.6" y1="86.3" x2="336.6" y2="86.3"/>
<line x1="337.5" y1="86.3" x2="337.5" y2="86.3"/>
<line x1="336.6" y1="86.3" x2="337.5" y2="86.3"/>
<line x1="337.1" y1="84.6" x2="337.1" y2="86.3"/>
<line x1="338.2" y1="84.6" x2="338.2" y2="85.5"/>
<line x1="337.1" y1="84.6" x2="338.2" y2="84.6"/>
<line x1="337.6" y1="79.3" x2="337.6" y2="84.6"/>
<line x1="339" y1="86.2" x2="339" y2="86.2"/>
<line x1="339.8" y1="86.2" x2="339.8" y2="86.2"/>
<line x1="339" y1="86.2" x2="339.8" y2="86.2"/>
<line x1="339.4" y1="85.4" x2="339.4" y2="86.2"/>
<line x1="340.4" y1="85.4" x2="340.4" y2="85.5"/>
<line x1="339.4" y1="85.4" x2="340.4" y2="85.4"/>
<line x1="339.9" y1="79.3" x2="339.9" y2="85.4"/>
<line x1="337.6" y1="79.3" x2="339.9" y2="79.3"/>
<line x1="338.8" y1="78.5" x2="338.8" y2="79.3"/>
<line x1="341.3" y1="78.5" x2="341.3" y2="85.5"/>
<line x1="338.8" y1="78.5" x2="341.3" y2="78.5"/>
<line x1="340" y1="76.6" x2="340" y2="78.5"/>
<line x1="342.3" y1="87.4" x2="342.3" y2="87.4"/>
<line x1="343.1" y1="87.4" x2="343.1" y2="87.4"/>
<line x1="342.3" y1="87.4" x2="343.1" y2="87.4"/>
<line x1="342.7" y1="84.4" x2="342.7" y2="87.4"/>
<line x1="343.8" y1="84.4" x2="343.8" y2="85.5"/>
<line x1="342.7" y1="84.4" x2="343.8" y2="84.4"/>
<line x1="343.2" y1="83.6" x2="343.2" y2="84.4"/>
<line x1="344.7" y1="83.6" x2="344.7" y2="85.5"/>
<line x1="343.2" y1="83.6" x2="344.7" y2="83.6"/>
<line x1="344" y1="76.6" x2="344" y2="83.6"/>
<line x1="340" y1="76.6" x2="344" y2="76.6"/>
<line x1="342" y1="75.8" x2="342" y2="76.6"/>
<line x1="329.4" y1="75.8" x2="342" y2="75.8"/>
<line x1="335.7" y1="75" x2="335.7" y2="75.8"/>
<line x1="345.6" y1="84.3" x2="345.6" y2="85.5"/>
<line x1="346.4" y1="84.3" x2="346.4" y2="85.5"/>
<line x1="345.6" y1="84.3" x2="346.4" y2="84.3"/>
<line x1="346" y1="83" x2="346" y2="84.3"/>
<line x1="347.4" y1="83" x2="347.4" y2="85.5"/>
<line x1="346" y1="83" x2="347.4" y2="83"/>
<line x1="346.7" y1="78.6" x2="346.7" y2="83"/>
<line x1="348.7" y1="83.8" x2="348.7" y2="85.5"/>
<line x1="349.8" y1="86.8" x2="349.8" y2="86.8"/>
<line x1="350.6" y1="86.8" x2="350.6" y2="86.8"/>
<line x1="349.8" y1="86.8" x2="350.6" y2="86.8"/>
<line x1="350.2" y1="83.8" x2="350.2" y2="86.8"/>
<line x1="348.7" y1="83.8" x2="350.2" y2="83.8"/>
<line x1="349.4" y1="83" x2="349.4" y2="83.8"/>
<line x1="351.5" y1="83" x2="351.5" y2="85.5"/>
<line x1="349.4" y1="83" x2="351.5" y2="83"/>
<line x1="350.4" y1="78.6" x2="350.4" y2="83"/>
<line x1="346.7" y1="78.6" x2="350.4" y2="78.6"/>
<line x1="348.6" y1="75" x2="348.6" y2="78.6"/>
<line x1="335.7" y1="75" x2="348.6" y2="75"/>
<line x1="342.1" y1="74.2" x2="342.1" y2="75"/>
<line x1="314.6" y1="74.2" x2="342.1" y2="74.2"/>
<line x1="352.6" y1="83.8" x2="352.6" y2="85.5"/>
<line x1="353.7" y1="86.1" x2="353.7" y2="86.1"/>
<line x1="354.4" y1="86.1" x2="354.4" y2="86.1"/>
<line x1="353.7" y1="86.1" x2="354.4" y2="86.1"/>
<line x1="354" y1="83.8" x2="354" y2="86.1"/>
<line x1="352.6" y1="83.8" x2="354" y2="83.8"/>
<line x1="353.3" y1="76.1" x2="353.3" y2="83.8"/>
<line x1="355" y1="83.4" x2="355" y2="85.5"/>
<line x1="355.9" y1="83.4" x2="355.9" y2="85.5"/>
<line x1="355" y1="83.4" x2="355.9" y2="83.4"/>
<line x1="355.4" y1="81.1" x2="355.4" y2="83.4"/>
<line x1="357" y1="82.6" x2="357" y2="85.5"/>
<line x1="358" y1="86.2" x2="358" y2="86.2"/>
<line x1="358.9" y1="86.2" x2="358.9" y2="86.2"/>
<line x1="358" y1="86.2" x2="358.9" y2="86.2"/>
<line x1="358.4" y1="83.4" x2="358.4" y2="86.2"/>
<line x1="359.6" y1="83.4" x2="359.6" y2="85.5"/>
<line x1="358.4" y1="83.4" x2="359.6" y2="83.4"/>
<line x1="359" y1="82.6" x2="359" y2="83.4"/>
<line x1="357" y1="82.6" x2="359" y2="82.6"/>
<line x1="358" y1="81.1" x2="358" y2="82.6"/>
<line x1="355.4" y1="81.1" x2="358" y2="81.1"/>
<line x1="356.7" y1="76.9" x2="356.7" y2="81.1"/>
<line x1="360.2" y1="86.7" x2="360.2" y2="86.7"/>
<line x1="361" y1="86.7" x2="361" y2="86.7"/>
<line x1="360.2" y1="86.7" x2="361" y2="86.7"/>
<line x1="360.6" y1="82.5" x2="360.6" y2="86.7"/>
<line x1="362.1" y1="87.3" x2="362.1" y2="87.3"/>
<line x1="363" y1="87.3" x2="363" y2="87.3"/>
<line x1="362.1" y1="87.3" x2="363" y2="87.3"/>
<line x1="362.6" y1="83.5" x2="362.6" y2="87.3"/>
<line x1="363.6" y1="83.5" x2="363.6" y2="85.5"/>
<line x1="362.6" y1="83.5" x2="363.6" y2="83.5"/>
<line x1="363.1" y1="82.5" x2="363.1" y2="83.5"/>
<line x1="360.6" y1="82.5" x2="363.1" y2="82.5"/>
<line x1="361.8" y1="76.9" x2="361.8" y2="82.5"/>
<line x1="356.7" y1="76.9" x2="361.8" y2="76.9"/>
<line x1="359.3" y1="76.1" x2="359.3" y2="76.9"/>
<line x1="353.3" y1="76.1" x2="359.3" y2="76.1"/>
<line x1="356.3" y1="74.6" x2="356.3" y2="76.1"/>
<line x1="364.4" y1="85.4" x2="364.4" y2="85.5"/>
<line x1="365.2" y1="86.2" x2="365.2" y2="86.2"/>
<line x1="366" y1="86.2" x2="366" y2="86.2"/>
<line x1="365.2" y1="86.2" x2="366" y2="86.2"/>
<line x1="365.6" y1="85.4" x2="365.6" y2="86.2"/>
<line x1="364.4" y1="85.4" x2="365.6" y2="85.4"/>
<line x1="365" y1="82.5" x2="365" y2="85.4"/>
<line x1="366.7" y1="85.8" x2="366.7" y2="85.8"/>
<line x1="367.4" y1="85.8" x2="367.4" y2="85.8"/>
<line x1="366.7" y1="85.8" x2="367.4" y2="85.8"/>
<line x1="367" y1="82.5" x2="367" y2="85.8"/>
<line x1="365" y1="82.5" x2="367" y2="82.5"/>
<line x1="366" y1="79.3" x2="366" y2="82.5"/>
<line x1="368.3" y1="85.6" x2="368.3" y2="85.6"/>
<line x1="369.2" y1="85.6" x2="369.2" y2="85.6"/>
<line x1="368.3" y1="85.6" x2="369.2" y2="85.6"/>
<line x1="368.8" y1="79.3" x2="368.8" y2="85.6"/>
<line x1="366" y1="79.3" x2="368.8" y2="79.3"/>
<line x1="367.4" y1="76.2" x2="367.4" y2="79.3"/>
<line x1="370.1" y1="81.4" x2="370.1" y2="85.5"/>
<line x1="370.9" y1="86.7" x2="370.9" y2="86.7"/>
<line x1="371.6" y1="86.7" x2="371.6" y2="86.7"/>
<line x1="370.9" y1="86.7" x2="371.6" y2="86.7"/>
<line x1="371.2" y1="83" x2="371.2" y2="86.7"/>
<line x1="372.5" y1="83" x2="372.5" y2="85.5"/>
<line x1="371.2" y1="83" x2="372.5" y2="83"/>
<line x1="371.9" y1="82.2" x2="371.9" y2="83"/>
<line x1="373.4" y1="82.2" x2="373.4" y2="85.5"/>
<line x1="371.9" y1="82.2" x2="373.4" y2="82.2"/>
<line x1="372.7" y1="81.4" x2="372.7" y2="82.2"/>
<line x1="370.1" y1="81.4" x2="372.7" y2="81.4"/>
<line x1="371.4" y1="80.6" x2="371.4" y2="81.4"/>
<line x1="374.5" y1="80.6" x2="374.5" y2="85.5"/>
<line x1="371.4" y1="80.6" x2="374.5" y2="80.6"/>
<line x1="372.9" y1="77" x2="372.9" y2="80.6"/>
<line x1="375.5" y1="84" x2="375.5" y2="85.5"/>
<line x1="376.4" y1="84" x2="376.4" y2="85.5"/>
<line x1="375.5" y1="84" x2="376.4" y2="84"/>
<line x1="375.9" y1="78" x2="375.9" y2="84"/>
<line x1="377.3" y1="85.3" x2="377.3" y2="85.5"/>
<line x1="377.9" y1="85.3" x2="377.9" y2="85.5"/>
<line x1="377.3" y1="85.3" x2="377.9" y2="85.3"/>
<line x1="377.6" y1="79.6" x2="377.6" y2="85.3"/>
<line x1="378.6" y1="88.6" x2="378.6" y2="88.6"/>
<line x1="379.3" y1="88.6" x2="379.3" y2="88.6"/>
<line x1="378.6" y1="88.6" x2="379.3" y2="88.6"/>
<line x1="379" y1="85.5" x2="379" y2="88.6"/>
<line x1="379.9" y1="85.5" x2="379.9" y2="85.5"/>
<line x1="379" y1="85.5" x2="379.9" y2="85.5"/>
<line x1="379.4" y1="81.8" x2="379.4" y2="85.5"/>
<line x1="380.5" y1="85.6" x2="380.5" y2="85.6"/>
<line x1="381.3" y1="85.6" x2="381.3" y2="85.6"/>
<line x1="380.5" y1="85.6" x2="381.3" y2="85.6"/>
<line x1="380.9" y1="81.8" x2="380.9" y2="85.6"/>
<line x1="379.4" y1="81.8" x2="380.9" y2="81.8"/>
<line x1="380.2" y1="79.6" x2="380.2" y2="81.8"/>
<line x1="377.6" y1="79.6" x2="380.2" y2="79.6"/>
<line x1="378.9" y1="78.8" x2="378.9" y2="79.6"/>
<line x1="381.8" y1="83.5" x2="381.8" y2="85.5"/>
<line x1="382.6" y1="85.8" x2="382.6" y2="85.8"/>
<line x1="383.4" y1="85.8" x2="383.4" y2="85.8"/>
<line x1="382.6" y1="85.8" x2="383.4" y2="85.8"/>
<line x1="383" y1="83.5" x2="383" y2="85.8"/>
<line x1="381.8" y1="83.5" x2="383" y2="83.5"/>
<line x1="382.4" y1="78.8" x2="382.4" y2="83.5"/>
<line x1="378.9" y1="78.8" x2="382.4" y2="78.8"/>
<line x1="380.6" y1="78" x2="380.6" y2="78.8"/>
<line x1="375.9" y1="78" x2="380.6" y2="78"/>
<line x1="378.3" y1="77" x2="378.3" y2="78"/>
<line x1="372.9" y1="77" x2="378.3" y2="77"/>
<line x1="375.6" y1="76.2" x2="375.6" y2="77"/>
<line x1="367.4" y1="76.2" x2="375.6" y2="76.2"/>
<line x1="371.5" y1="75.4" x2="371.5" y2="76.2"/>
<line x1="384.1" y1="85.6" x2="384.1" y2="85.6"/>
<line x1="385.2" y1="85.6" x2="385.2" y2="85.6"/>
<line x1="384.1" y1="85.6" x2="385.2" y2="85.6"/>
<line x1="384.6" y1="81.7" x2="384.6" y2="85.6"/>
<line x1="386.3" y1="87.2" x2="386.3" y2="87.2"/>
<line x1="387.1" y1="87.2" x2="387.1" y2="87.2"/>
<line x1="386.3" y1="87.2" x2="387.1" y2="87.2"/>
<line x1="386.7" y1="81.7" x2="386.7" y2="87.2"/>
<line x1="384.6" y1="81.7" x2="386.7" y2="81.7"/>
<line x1="385.7" y1="78.5" x2="385.7" y2="81.7"/>
<line x1="387.5" y1="86.5" x2="387.5" y2="86.5"/>
<line x1="388.4" y1="86.5" x2="388.4" y2="86.5"/>
<line x1="387.5" y1="86.5" x2="388.4" y2="86.5"/>
<line x1="388" y1="82.8" x2="388" y2="86.5"/>
<line x1="389.3" y1="82.8" x2="389.3" y2="85.5"/>
<line x1="388" y1="82.8" x2="389.3" y2="82.8"/>
<line x1="388.6" y1="78.5" x2="388.6" y2="82.8"/>
<line x1="385.7" y1="78.5" x2="388.6" y2="78.5"/>
<line x1="387.2" y1="76.2" x2="387.2" y2="78.5"/>
<line x1="390" y1="87.2" x2="390" y2="87.2"/>
<line x1="390.7" y1="87.2" x2="390.7" y2="87.2"/>
<line x1="390" y1="87.2" x2="390.7" y2="87.2"/>
<line x1="390.3" y1="86.4" x2="390.3" y2="87.2"/>
<line x1="391.2" y1="86.4" x2="391.2" y2="86.4"/>
<line x1="390.3" y1="86.4" x2="391.2" y2="86.4"/>
<line x1="390.7" y1="83.9" x2="390.7" y2="86.4"/>
<line x1="391.7" y1="83.9" x2="391.7" y2="85.5"/>
<line x1="390.7" y1="83.9" x2="391.7" y2="83.9"/>
<line x1="391.2" y1="80.5" x2="391.2" y2="83.9"/>
<line x1="392.7" y1="85.6" x2="392.7" y2="85.6"/>
<line x1="393.8" y1="85.6" x2="393.8" y2="85.6"/>
<line x1="392.7" y1="85.6" x2="393.8" y2="85.6"/>
<line x1="393.2" y1="81.3" x2="393.2" y2="85.6"/>
<line x1="394.8" y1="81.3" x2="394.8" y2="85.5"/>
<line x1="393.2" y1="81.3" x2="394.8" y2="81.3"/>
<line x1="394" y1="80.5" x2="394" y2="81.3"/>
<line x1="391.2" y1="80.5" x2="394" y2="80.5"/>
<line x1="392.6" y1="77" x2="392.6" y2="80.5"/>
<line x1="396" y1="88.1" x2="396" y2="88.1"/>
<line x1="396.7" y1="88.1" x2="396.7" y2="88.1"/>
<line x1="396" y1="88.1" x2="396.7" y2="88.1"/>
<line x1="396.4" y1="81.4" x2="396.4" y2="88.1"/>
<line x1="397.2" y1="87.3" x2="397.2" y2="87.3"/>
<line x1="398" y1="87.3" x2="398" y2="87.3"/>
<line x1="397.2" y1="87.3" x2="398" y2="87.3"/>
<line x1="397.6" y1="84.5" x2="397.6" y2="87.3"/>
<line x1="398.9" y1="88.3" x2="398.9" y2="88.3"/>
<line x1="399.6" y1="88.3" x2="399.6" y2="88.3"/>
<line x1="398.9" y1="88.3" x2="399.6" y2="88.3"/>
<line x1="399.3" y1="84.5" x2="399.3" y2="88.3"/>
<line x1="397.6" y1="84.5" x2="399.3" y2="84.5"/>
<line x1="398.4" y1="81.4" x2="398.4" y2="84.5"/>
<line x1="396.4" y1="81.4" x2="398.4" y2="81.4"/>
<line x1="397.4" y1="77" x2="397.4" y2="81.4"/>
<line x1="392.6" y1="77" x2="397.4" y2="77"/>
<line x1="395" y1="76.2" x2="395" y2="77"/>
<line x1="387.2" y1="76.2" x2="395" y2="76.2"/>
<line x1="391.1" y1="75.4" x2="391.1" y2="76.2"/>
<line x1="371.5" y1="75.4" x2="391.1" y2="75.4"/>
<line x1="381.3" y1="74.6" x2="381.3" y2="75.4"/>
<line x1="356.3" y1="74.6" x2="381.3" y2="74.6"/>
<line x1="368.8" y1="73.8" x2="368.8" y2="74.6"/>
<line x1="400.2" y1="84.6" x2="400.2" y2="85.5"/>
<line x1="401" y1="84.6" x2="401" y2="85.5"/>
<line x1="400.2" y1="84.6" x2="401" y2="84.6"/>
<line x1="400.6" y1="82.2" x2="400.6" y2="84.6"/>
<line x1="401.9" y1="82.2" x2="401.9" y2="85.5"/>
<line x1="400.6" y1="82.2" x2="401.9" y2="82.2"/>
<line x1="401.2" y1="80" x2="401.2" y2="82.2"/>
<line x1="402.9" y1="80" x2="402.9" y2="85.5"/>
<line x1="401.2" y1="80" x2="402.9" y2="80"/>
<line x1="402" y1="78.8" x2="402" y2="80"/>
<line x1="403.9" y1="82.6" x2="403.9" y2="85.5"/>
<line x1="405" y1="87.8" x2="405" y2="87.8"/>
<line x1="405.6" y1="87.8" x2="405.6" y2="87.8"/>
<line x1="405" y1="87.8" x2="405.6" y2="87.8"/>
<line x1="405.3" y1="83.4" x2="405.3" y2="87.8"/>
<line x1="406.3" y1="87.9" x2="406.3" y2="87.9"/>
<line x1="407" y1="87.9" x2="407" y2="87.9"/>
<line x1="406.3" y1="87.9" x2="407" y2="87.9"/>
<line x1="406.7" y1="83.4" x2="406.7" y2="87.9"/>
<line x1="405.3" y1="83.4" x2="406.7" y2="83.4"/>
<line x1="406" y1="82.6" x2="406" y2="83.4"/>
<line x1="403.9" y1="82.6" x2="406" y2="82.6"/>
<line x1="405" y1="78.8" x2="405" y2="82.6"/>
<line x1="402" y1="78.8" x2="405" y2="78.8"/>
<line x1="403.5" y1="75.4" x2="403.5" y2="78.8"/>
<line x1="407.4" y1="86" x2="407.4" y2="86"/>
<line x1="408.3" y1="86" x2="408.3" y2="86"/>
<line x1="407.4" y1="86" x2="408.3" y2="86"/>
<line x1="407.9" y1="79.3" x2="407.9" y2="86"/>
<line x1="409.1" y1="87.1" x2="409.1" y2="87.1"/>
<line x1="409.7" y1="87.1" x2="409.7" y2="87.1"/>
<line x1="409.1" y1="87.1" x2="409.7" y2="87.1"/>
<line x1="409.4" y1="85.1" x2="409.4" y2="87.1"/>
<line x1="410.4" y1="85.1" x2="410.4" y2="85.5"/>
<line x1="409.4" y1="85.1" x2="410.4" y2="85.1"/>
<line x1="409.9" y1="82.9" x2="409.9" y2="85.1"/>
<line x1="411.2" y1="86.4" x2="411.2" y2="86.4"/>
<line x1="411.9" y1="86.4" x2="411.9" y2="86.4"/>
<line x1="411.2" y1="86.4" x2="411.9" y2="86.4"/>
<line x1="411.6" y1="82.9" x2="411.6" y2="86.4"/>
<line x1="409.9" y1="82.9" x2="411.6" y2="82.9"/>
<line x1="410.7" y1="79.3" x2="410.7" y2="82.9"/>
<line x1="407.9" y1="79.3" x2="410.7" y2="79.3"/>
<line x1="409.3" y1="78.5" x2="409.3" y2="79.3"/>
<line x1="412.4" y1="87.9" x2="412.4" y2="87.9"/>
<line x1="413.1" y1="87.9" x2="413.1" y2="87.9"/>
<line x1="412.4" y1="87.9" x2="413.1" y2="87.9"/>
<line x1="412.7" y1="78.5" x2="412.7" y2="87.9"/>
<line x1="409.3" y1="78.5" x2="412.7" y2="78.5"/>
<line x1="411" y1="75.4" x2="411" y2="78.5"/>
<line x1="403.5" y1="75.4" x2="411" y2="75.4"/>
<line x1="407.3" y1="74.6" x2="407.3" y2="75.4"/>
<line x1="414.1" y1="86.6" x2="414.1" y2="86.6"/>
<line x1="415" y1="86.6" x2="415" y2="86.6"/>
<line x1="414.1" y1="86.6" x2="415" y2="86.6"/>
<line x1="414.5" y1="81.1" x2="414.5" y2="86.6"/>
<line x1="415.7" y1="85.3" x2="415.7" y2="85.5"/>
<line x1="416.4" y1="85.3" x2="416.4" y2="85.5"/>
<line x1="415.7" y1="85.3" x2="416.4" y2="85.3"/>
<line x1="416.1" y1="84.2" x2="416.1" y2="85.3"/>
<line x1="417.2" y1="84.2" x2="417.2" y2="85.5"/>
<line x1="416.1" y1="84.2" x2="417.2" y2="84.2"/>
<line x1="416.6" y1="81.1" x2="416.6" y2="84.2"/>
<line x1="414.5" y1="81.1" x2="416.6" y2="81.1"/>
<line x1="415.6" y1="78.6" x2="415.6" y2="81.1"/>
<line x1="418.2" y1="78.6" x2="418.2" y2="85.5"/>
<line x1="415.6" y1="78.6" x2="418.2" y2="78.6"/>
<line x1="416.9" y1="77.8" x2="416.9" y2="78.6"/>
<line x1="419.3" y1="84" x2="419.3" y2="85.5"/>
<line x1="420.2" y1="84.8" x2="420.2" y2="85.5"/>
<line x1="420.9" y1="86.4" x2="420.9" y2="86.4"/>
<line x1="421.6" y1="86.4" x2="421.6" y2="86.4"/>
<line x1="420.9" y1="86.4" x2="421.6" y2="86.4"/>
<line x1="421.3" y1="84.8" x2="421.3" y2="86.4"/>
<line x1="420.2" y1="84.8" x2="421.3" y2="84.8"/>
<line x1="420.7" y1="84" x2="420.7" y2="84.8"/>
<line x1="419.3" y1="84" x2="420.7" y2="84"/>
<line x1="420" y1="80.8" x2="420" y2="84"/>
<line x1="422.3" y1="80.8" x2="422.3" y2="85.5"/>
<line x1="420" y1="80.8" x2="422.3" y2="80.8"/>
<line x1="421.2" y1="77.8" x2="421.2" y2="80.8"/>
<line x1="416.9" y1="77.8" x2="421.2" y2="77.8"/>
<line x1="419" y1="77" x2="419" y2="77.8"/>
<line x1="423.4" y1="80.3" x2="423.4" y2="85.5"/>
<line x1="424.3" y1="85.1" x2="424.3" y2="85.5"/>
<line x1="425" y1="85.1" x2="425" y2="85.5"/>
<line x1="424.3" y1="85.1" x2="425" y2="85.1"/>
<line x1="424.6" y1="84.3" x2="424.6" y2="85.1"/>
<line x1="425.8" y1="84.3" x2="425.8" y2="85.5"/>
<line x1="424.6" y1="84.3" x2="425.8" y2="84.3"/>
<line x1="425.2" y1="83.5" x2="425.2" y2="84.3"/>
<line x1="426.5" y1="83.5" x2="426.5" y2="85.5"/>
<line x1="425.2" y1="83.5" x2="426.5" y2="83.5"/>
<line x1="425.9" y1="80.3" x2="425.9" y2="83.5"/>
<line x1="423.4" y1="80.3" x2="425.9" y2="80.3"/>
<line x1="424.6" y1="78.5" x2="424.6" y2="80.3"/>
<line x1="427.4" y1="82.7" x2="427.4" y2="85.5"/>
<line x1="428.2" y1="86.7" x2="428.2" y2="86.7"/>
<line x1="428.9" y1="86.7" x2="428.9" y2="86.7"/>
<line x1="428.2" y1="86.7" x2="428.9" y2="86.7"/>
<line x1="428.5" y1="82.7" x2="428.5" y2="86.7"/>
<line x1="427.4" y1="82.7" x2="428.5" y2="82.7"/>
<line x1="428" y1="79.7" x2="428" y2="82.7"/>
<line x1="429.7" y1="86.6" x2="429.7" y2="86.6"/>
<line x1="430.6" y1="86.6" x2="430.6" y2="86.6"/>
<line x1="429.7" y1="86.6" x2="430.6" y2="86.6"/>
<line x1="430.2" y1="79.7" x2="430.2" y2="86.6"/>
<line x1="428" y1="79.7" x2="430.2" y2="79.7"/>
<line x1="429.1" y1="78.5" x2="429.1" y2="79.7"/>
<line x1="424.6" y1="78.5" x2="429.1" y2="78.5"/>
<line x1="426.9" y1="77" x2="426.9" y2="78.5"/>
<line x1="419" y1="77" x2="426.9" y2="77"/>
<line x1="422.9" y1="76.2" x2="422.9" y2="77"/>
<line x1="431.8" y1="83.1" x2="431.8" y2="85.5"/>
<line x1="432.7" y1="86" x2="432.7" y2="86"/>
<line x1="433.5" y1="86" x2="433.5" y2="86"/>
<line x1="432.7" y1="86" x2="433.5" y2="86"/>
<line x1="433.1" y1="83.1" x2="433.1" y2="86"/>
<line x1="431.8" y1="83.1" x2="433.1" y2="83.1"/>
<line x1="432.4" y1="78.6" x2="432.4" y2="83.1"/>
<line x1="434.3" y1="82.4" x2="434.3" y2="85.5"/>
<line x1="435.2" y1="86.2" x2="435.2" y2="86.2"/>
<line x1="436" y1="86.2" x2="436" y2="86.2"/>
<line x1="435.2" y1="86.2" x2="436" y2="86.2"/>
<line x1="435.6" y1="82.4" x2="435.6" y2="86.2"/>
<line x1="434.3" y1="82.4" x2="435.6" y2="82.4"/>
<line x1="434.9" y1="78.6" x2="434.9" y2="82.4"/>
<line x1="432.4" y1="78.6" x2="434.9" y2="78.6"/>
<line x1="433.7" y1="77" x2="433.7" y2="78.6"/>
<line x1="436.8" y1="84.3" x2="436.8" y2="85.5"/>
<line x1="437.5" y1="88.2" x2="437.5" y2="88.2"/>
<line x1="438.2" y1="88.2" x2="438.2" y2="88.2"/>
<line x1="437.5" y1="88.2" x2="438.2" y2="88.2"/>
<line x1="437.8" y1="84.3" x2="437.8" y2="88.2"/>
<line x1="436.8" y1="84.3" x2="437.8" y2="84.3"/>
<line x1="437.3" y1="83.5" x2="437.3" y2="84.3"/>
<line x1="439.1" y1="83.5" x2="439.1" y2="85.5"/>
<line x1="437.3" y1="83.5" x2="439.1" y2="83.5"/>
<line x1="438.2" y1="79.4" x2="438.2" y2="83.5"/>
<line x1="440.1" y1="87.4" x2="440.1" y2="87.4"/>
<line x1="441" y1="87.4" x2="441" y2="87.4"/>
<line x1="440.1" y1="87.4" x2="441" y2="87.4"/>
<line x1="440.6" y1="79.4" x2="440.6" y2="87.4"/>
<line x1="438.2" y1="79.4" x2="440.6" y2="79.4"/>
<line x1="439.4" y1="78.6" x2="439.4" y2="79.4"/>
<line x1="441.6" y1="83.7" x2="441.6" y2="85.5"/>
<line x1="442.5" y1="83.7" x2="442.5" y2="85.5"/>
<line x1="441.6" y1="83.7" x2="442.5" y2="83.7"/>
<line x1="442" y1="78.6" x2="442" y2="83.7"/>
<line x1="439.4" y1="78.6" x2="442" y2="78.6"/>
<line x1="440.7" y1="77.8" x2="440.7" y2="78.6"/>
<line x1="443.7" y1="83.9" x2="443.7" y2="85.5"/>
<line x1="444.8" y1="84.7" x2="444.8" y2="85.5"/>
<line x1="445.7" y1="84.7" x2="445.7" y2="85.5"/>
<line x1="444.8" y1="84.7" x2="445.7" y2="84.7"/>
<line x1="445.2" y1="83.9" x2="445.2" y2="84.7"/>
<line x1="443.7" y1="83.9" x2="445.2" y2="83.9"/>
<line x1="444.4" y1="77.8" x2="444.4" y2="83.9"/>
<line x1="440.7" y1="77.8" x2="444.4" y2="77.8"/>
<line x1="442.6" y1="77" x2="442.6" y2="77.8"/>
<line x1="433.7" y1="77" x2="442.6" y2="77"/>
<line x1="438.1" y1="76.2" x2="438.1" y2="77"/>
<line x1="422.9" y1="76.2" x2="438.1" y2="76.2"/>
<line x1="430.5" y1="75.4" x2="430.5" y2="76.2"/>
<line x1="446.2" y1="83.9" x2="446.2" y2="85.5"/>
<line x1="447.2" y1="84.7" x2="447.2" y2="85.5"/>
<line x1="448.2" y1="84.7" x2="448.2" y2="85.5"/>
<line x1="447.2" y1="84.7" x2="448.2" y2="84.7"/>
<line x1="447.7" y1="83.9" x2="447.7" y2="84.7"/>
<line x1="446.2" y1="83.9" x2="447.7" y2="83.9"/>
<line x1="447" y1="77.5" x2="447" y2="83.9"/>
<line x1="449" y1="87.9" x2="449" y2="87.9"/>
<line x1="449.6" y1="87.9" x2="449.6" y2="87.9"/>
<line x1="449" y1="87.9" x2="449.6" y2="87.9"/>
<line x1="449.3" y1="84.3" x2="449.3" y2="87.9"/>
<line x1="450.2" y1="87.8" x2="450.2" y2="87.8"/>
<line x1="450.8" y1="87.8" x2="450.8" y2="87.8"/>
<line x1="450.2" y1="87.8" x2="450.8" y2="87.8"/>
<line x1="450.5" y1="84.3" x2="450.5" y2="87.8"/>
<line x1="449.3" y1="84.3" x2="450.5" y2="84.3"/>
<line x1="449.9" y1="83.5" x2="449.9" y2="84.3"/>
<line x1="451.7" y1="83.5" x2="451.7" y2="85.5"/>
<line x1="449.9" y1="83.5" x2="451.7" y2="83.5"/>
<line x1="450.8" y1="77.5" x2="450.8" y2="83.5"/>
<line x1="447" y1="77.5" x2="450.8" y2="77.5"/>
<line x1="448.9" y1="76.4" x2="448.9" y2="77.5"/>
<line x1="452.4" y1="81.2" x2="452.4" y2="85.5"/>
<line x1="453.4" y1="82.7" x2="453.4" y2="85.5"/>
<line x1="454.5" y1="82.7" x2="454.5" y2="85.5"/>
<line x1="453.4" y1="82.7" x2="454.5" y2="82.7"/>
<line x1="453.9" y1="81.2" x2="453.9" y2="82.7"/>
<line x1="452.4" y1="81.2" x2="453.9" y2="81.2"/>
<line x1="453.2" y1="76.4" x2="453.2" y2="81.2"/>
<line x1="448.9" y1="76.4" x2="453.2" y2="76.4"/>
<line x1="451" y1="75.4" x2="451" y2="76.4"/>
<line x1="430.5" y1="75.4" x2="451" y2="75.4"/>
<line x1="440.8" y1="74.6" x2="440.8" y2="75.4"/>
<line x1="407.3" y1="74.6" x2="440.8" y2="74.6"/>
<line x1="424" y1="73.8" x2="424" y2="74.6"/>
<line x1="368.8" y1="73.8" x2="424" y2="73.8"/>
<line x1="328.4" y1="69.2" x2="396.4" y2="69.2"/>
<line x1="328.4" y1="69.2" x2="328.4" y2="74.2"/>
<line x1="396.4" y1="69.2" x2="396.4" y2="73.8"/>
<line x1="455.4" y1="81.9" x2="455.4" y2="85.5"/>
<line x1="456.1" y1="88" x2="456.1" y2="88"/>
<line x1="456.8" y1="88" x2="456.8" y2="88"/>
<line x1="456.1" y1="88" x2="456.8" y2="88"/>
<line x1="456.5" y1="86.4" x2="456.5" y2="88"/>
<line x1="457.6" y1="86.4" x2="457.6" y2="86.4"/>
<line x1="456.5" y1="86.4" x2="457.6" y2="86.4"/>
<line x1="457" y1="81.9" x2="457" y2="86.4"/>
<line x1="455.4" y1="81.9" x2="457" y2="81.9"/>
<line x1="456.2" y1="76.6" x2="456.2" y2="81.9"/>
<line x1="458.2" y1="85.9" x2="458.2" y2="85.9"/>
<line x1="459" y1="85.9" x2="459" y2="85.9"/>
<line x1="458.2" y1="85.9" x2="459" y2="85.9"/>
<line x1="458.6" y1="81.2" x2="458.6" y2="85.9"/>
<line x1="459.7" y1="85.7" x2="459.7" y2="85.7"/>
<line x1="460.3" y1="87.4" x2="460.3" y2="87.4"/>
<line x1="461.1" y1="87.4" x2="461.1" y2="87.4"/>
<line x1="460.3" y1="87.4" x2="461.1" y2="87.4"/>
<line x1="460.7" y1="85.7" x2="460.7" y2="87.4"/>
<line x1="459.7" y1="85.7" x2="460.7" y2="85.7"/>
<line x1="460.2" y1="81.2" x2="460.2" y2="85.7"/>
<line x1="458.6" y1="81.2" x2="460.2" y2="81.2"/>
<line x1="459.4" y1="79.5" x2="459.4" y2="81.2"/>
<line x1="461.7" y1="84.2" x2="461.7" y2="85.5"/>
<line x1="462.6" y1="84.2" x2="462.6" y2="85.5"/>
<line x1="461.7" y1="84.2" x2="462.6" y2="84.2"/>
<line x1="462.2" y1="79.5" x2="462.2" y2="84.2"/>
<line x1="459.4" y1="79.5" x2="462.2" y2="79.5"/>
<line x1="460.8" y1="77.4" x2="460.8" y2="79.5"/>
<line x1="463.4" y1="87" x2="463.4" y2="87"/>
<line x1="464.2" y1="87" x2="464.2" y2="87"/>
<line x1="463.4" y1="87" x2="464.2" y2="87"/>
<line x1="463.8" y1="77.4" x2="463.8" y2="87"/>
<line x1="460.8" y1="77.4" x2="463.8" y2="77.4"/>
<line x1="462.3" y1="76.6" x2="462.3" y2="77.4"/>
<line x1="456.2" y1="76.6" x2="462.3" y2="76.6"/>
<line x1="459.3" y1="73.2" x2="459.3" y2="76.6"/>
<line x1="465" y1="83.1" x2="465" y2="85.5"/>
<line x1="465.8" y1="87.1" x2="465.8" y2="87.1"/>
<line x1="466.5" y1="87.1" x2="466.5" y2="87.1"/>
<line x1="465.8" y1="87.1" x2="466.5" y2="87.1"/>
<line x1="466.2" y1="85.7" x2="466.2" y2="87.1"/>
<line x1="467.1" y1="85.7" x2="467.1" y2="85.7"/>
<line x1="466.2" y1="85.7" x2="467.1" y2="85.7"/>
<line x1="466.6" y1="83.1" x2="466.6" y2="85.7"/>
<line x1="465" y1="83.1" x2="466.6" y2="83.1"/>
<line x1="465.8" y1="75.4" x2="465.8" y2="83.1"/>
<line x1="468" y1="88.3" x2="468" y2="88.3"/>
<line x1="468.7" y1="88.3" x2="468.7" y2="88.3"/>
<line x1="468" y1="88.3" x2="468.7" y2="88.3"/>
<line x1="468.3" y1="83.2" x2="468.3" y2="88.3"/>
<line x1="469.5" y1="85.8" x2="469.5" y2="85.8"/>
<line x1="470.2" y1="85.8" x2="470.2" y2="85.8"/>
<line x1="469.5" y1="85.8" x2="470.2" y2="85.8"/>
<line x1="469.8" y1="83.2" x2="469.8" y2="85.8"/>
<line x1="468.3" y1="83.2" x2="469.8" y2="83.2"/>
<line x1="469.1" y1="78.9" x2="469.1" y2="83.2"/>
<line x1="470.9" y1="84.9" x2="470.9" y2="85.5"/>
<line x1="471.9" y1="88.4" x2="471.9" y2="88.4"/>
<line x1="472.6" y1="88.4" x2="472.6" y2="88.4"/>
<line x1="471.9" y1="88.4" x2="472.6" y2="88.4"/>
<line x1="472.3" y1="84.9" x2="472.3" y2="88.4"/>
<line x1="470.9" y1="84.9" x2="472.3" y2="84.9"/>
<line x1="471.6" y1="82.5" x2="471.6" y2="84.9"/>
<line x1="473.4" y1="82.5" x2="473.4" y2="85.5"/>
<line x1="471.6" y1="82.5" x2="473.4" y2="82.5"/>
<line x1="472.5" y1="78.9" x2="472.5" y2="82.5"/>
<line x1="469.1" y1="78.9" x2="472.5" y2="78.9"/>
<line x1="470.8" y1="75.4" x2="470.8" y2="78.9"/>
<line x1="465.8" y1="75.4" x2="470.8" y2="75.4"/>
<line x1="468.3" y1="73.2" x2="468.3" y2="75.4"/>
<line x1="459.3" y1="73.2" x2="468.3" y2="73.2"/>
<line x1="474.2" y1="85.6" x2="474.2" y2="85.6"/>
<line x1="474.8" y1="86.4" x2="474.8" y2="86.4"/>
<line x1="475.4" y1="86.4" x2="475.4" y2="86.4"/>
<line x1="474.8" y1="86.4" x2="475.4" y2="86.4"/>
<line x1="475.1" y1="85.6" x2="475.1" y2="86.4"/>
<line x1="474.2" y1="85.6" x2="475.1" y2="85.6"/>
<line x1="474.6" y1="79.2" x2="474.6" y2="85.6"/>
<line x1="476.2" y1="84" x2="476.2" y2="85.5"/>
<line x1="477.1" y1="87.4" x2="477.1" y2="87.4"/>
<line x1="477.9" y1="87.4" x2="477.9" y2="87.4"/>
<line x1="477.1" y1="87.4" x2="477.9" y2="87.4"/>
<line x1="477.5" y1="84" x2="477.5" y2="87.4"/>
<line x1="476.2" y1="84" x2="477.5" y2="84"/>
<line x1="476.8" y1="79.2" x2="476.8" y2="84"/>
<line x1="474.6" y1="79.2" x2="476.8" y2="79.2"/>
<line x1="475.7" y1="78" x2="475.7" y2="79.2"/>
<line x1="478.6" y1="86.8" x2="478.6" y2="86.8"/>
<line x1="479.4" y1="86.8" x2="479.4" y2="86.8"/>
<line x1="478.6" y1="86.8" x2="479.4" y2="86.8"/>
<line x1="479" y1="83.2" x2="479" y2="86.8"/>
<line x1="480.2" y1="83.2" x2="480.2" y2="85.5"/>
<line x1="479" y1="83.2" x2="480.2" y2="83.2"/>
<line x1="479.6" y1="78" x2="479.6" y2="83.2"/>
<line x1="475.7" y1="78" x2="479.6" y2="78"/>
<line x1="477.7" y1="77" x2="477.7" y2="78"/>
<line x1="481.1" y1="87.4" x2="481.1" y2="87.4"/>
<line x1="481.8" y1="87.4" x2="481.8" y2="87.4"/>
<line x1="481.1" y1="87.4" x2="481.8" y2="87.4"/>
<line x1="481.4" y1="86.6" x2="481.4" y2="87.4"/>
<line x1="482.2" y1="86.6" x2="482.2" y2="86.6"/>
<line x1="481.4" y1="86.6" x2="482.2" y2="86.6"/>
<line x1="481.8" y1="83.6" x2="481.8" y2="86.6"/>
<line x1="483" y1="83.6" x2="483" y2="85.5"/>
<line x1="481.8" y1="83.6" x2="483" y2="83.6"/>
<line x1="482.4" y1="81.5" x2="482.4" y2="83.6"/>
<line x1="483.8" y1="81.5" x2="483.8" y2="85.5"/>
<line x1="482.4" y1="81.5" x2="483.8" y2="81.5"/>
<line x1="483.1" y1="77" x2="483.1" y2="81.5"/>
<line x1="477.7" y1="77" x2="483.1" y2="77"/>
<line x1="480.4" y1="68.2" x2="480.4" y2="77"/>
<line x1="484.4" y1="83.9" x2="484.4" y2="85.5"/>
<line x1="485.1" y1="84.7" x2="485.1" y2="85.5"/>
<line x1="485.9" y1="84.7" x2="485.9" y2="85.5"/>
<line x1="485.1" y1="84.7" x2="485.9" y2="84.7"/>
<line x1="485.5" y1="83.9" x2="485.5" y2="84.7"/>
<line x1="484.4" y1="83.9" x2="485.5" y2="83.9"/>
<line x1="485" y1="79.5" x2="485" y2="83.9"/>
<line x1="486.8" y1="88.1" x2="486.8" y2="88.1"/>
<line x1="487.5" y1="88.1" x2="487.5" y2="88.1"/>
<line x1="486.8" y1="88.1" x2="487.5" y2="88.1"/>
<line x1="487.2" y1="80.3" x2="487.2" y2="88.1"/>
<line x1="488.4" y1="86.4" x2="488.4" y2="86.4"/>
<line x1="489.2" y1="86.4" x2="489.2" y2="86.4"/>
<line x1="488.4" y1="86.4" x2="489.2" y2="86.4"/>
<line x1="488.8" y1="84.9" x2="488.8" y2="86.4"/>
<line x1="489.7" y1="84.9" x2="489.7" y2="85.5"/>
<line x1="488.8" y1="84.9" x2="489.7" y2="84.9"/>
<line x1="489.3" y1="83.4" x2="489.3" y2="84.9"/>
<line x1="490.2" y1="83.4" x2="490.2" y2="85.5"/>
<line x1="489.3" y1="83.4" x2="490.2" y2="83.4"/>
<line x1="489.7" y1="80.3" x2="489.7" y2="83.4"/>
<line x1="487.2" y1="80.3" x2="489.7" y2="80.3"/>
<line x1="488.4" y1="79.5" x2="488.4" y2="80.3"/>
<line x1="485" y1="79.5" x2="488.4" y2="79.5"/>
<line x1="486.7" y1="68.2" x2="486.7" y2="79.5"/>
<line x1="480.4" y1="68.2" x2="486.7" y2="68.2"/>
<line x1="463.8" y1="58.8" x2="483.5" y2="58.8"/>
<line x1="463.8" y1="58.8" x2="463.8" y2="73.2"/>
<line x1="483.5" y1="58.8" x2="483.5" y2="68.2"/>
</g>
<rect x="265.3" y="113.8" width="2.8" height="9.2" fill="#4a6fb0"/>
<rect x="265.3" y="113.8" width="0.8" height="9.2" fill="#9a3d9c" opacity="0.55"/>
<rect x="266.1" y="113.8" width="1" height="9.2" fill="#8a3f9f" opacity="0.55"/>
<rect x="268" y="113.8" width="6.2" height="9.2" fill="#8a3c9e"/>
<rect x="269" y="113.8" width="0.8" height="9.2" fill="#6a55b0" opacity="0.55"/>
<rect x="270.8" y="113.8" width="0.8" height="9.2" fill="#8a3f9f" opacity="0.55"/>
<rect x="272.8" y="113.8" width="1" height="9.2" fill="#6a55b0" opacity="0.55"/>
<rect x="274" y="113.8" width="4.2" height="9.2" fill="#3f86c6"/>
<rect x="276.2" y="113.8" width="1" height="9.2" fill="#6a55b0" opacity="0.55"/>
<rect x="278" y="113.8" width="3.1" height="9.2" fill="#8a3c9e"/>
<rect x="278" y="113.8" width="0.8" height="9.2" fill="#9a3d9c" opacity="0.55"/>
<rect x="278.8" y="113.8" width="1" height="9.2" fill="#6a55b0" opacity="0.55"/>
<rect x="281" y="113.8" width="3.1" height="9.2" fill="#6a5db5"/>
<rect x="283.2" y="113.8" width="0.8" height="9.2" fill="#9a3d9c" opacity="0.55"/>
<rect x="284" y="113.8" width="14.2" height="9.2" fill="#8a3c9e"/>
<rect x="284" y="113.8" width="1.2" height="9.2" fill="#9a3d9c" opacity="0.55"/>
<rect x="285.2" y="113.8" width="0.8" height="9.2" fill="#6a55b0" opacity="0.55"/>
<rect x="286" y="113.8" width="0.8" height="9.2" fill="#9a3d9c" opacity="0.55"/>
<rect x="291" y="113.8" width="0.8" height="9.2" fill="#4a80c4" opacity="0.55"/>
<rect x="293" y="113.8" width="1" height="9.2" fill="#9a3d9c" opacity="0.55"/>
<rect x="296.4" y="113.8" width="1" height="9.2" fill="#8a3f9f" opacity="0.55"/>
<rect x="298" y="113.8" width="2.1" height="9.2" fill="#4e72bd"/>
<rect x="298" y="113.8" width="1.2" height="9.2" fill="#4a80c4" opacity="0.55"/>
<rect x="299.2" y="113.8" width="0.8" height="9.2" fill="#4a80c4" opacity="0.55"/>
<rect x="300" y="113.8" width="2.1" height="9.2" fill="#8e45a5"/>
<rect x="302" y="113.8" width="3.1" height="9.2" fill="#4c7cc0"/>
<rect x="303.8" y="113.8" width="1" height="9.2" fill="#6a55b0" opacity="0.55"/>
<rect x="305" y="113.8" width="2.1" height="9.2" fill="#7d4cab"/>
<rect x="307" y="113.8" width="3.1" height="9.2" fill="#4a78c0"/>
<rect x="308.2" y="113.8" width="0.8" height="9.2" fill="#4a80c4" opacity="0.55"/>
<rect x="309" y="113.8" width="1" height="9.2" fill="#6a55b0" opacity="0.55"/>
<rect x="310" y="113.8" width="4.2" height="9.2" fill="#6e55b2"/>
<rect x="311" y="113.8" width="0.8" height="9.2" fill="#8a3f9f" opacity="0.55"/>
<rect x="311.8" y="113.8" width="1" height="9.2" fill="#4a80c4" opacity="0.55"/>
<rect x="314" y="113.8" width="7.7" height="9.2" fill="#8a3c9e"/>
<rect x="315" y="113.8" width="1.2" height="9.2" fill="#4a80c4" opacity="0.55"/>
<rect x="317.2" y="113.8" width="0.8" height="9.2" fill="#8a3f9f" opacity="0.55"/>
<rect x="318" y="113.8" width="1.2" height="9.2" fill="#4a80c4" opacity="0.55"/>
<rect x="319.2" y="113.8" width="1.2" height="9.2" fill="#9a3d9c" opacity="0.55"/>
<rect x="320.4" y="113.8" width="1.1" height="9.2" fill="#8a3f9f" opacity="0.55"/>
<rect x="321.5" y="113.8" width="6.3" height="9.2" fill="#3f86c6"/>
<rect x="325.9" y="113.8" width="1" height="9.2" fill="#9a3d9c" opacity="0.55"/>
<rect x="326.9" y="113.8" width="0.7" height="9.2" fill="#9a3d9c" opacity="0.55"/>
<rect x="327.6" y="113.8" width="3.5" height="9.2" fill="#7a4caa"/>
<rect x="328.4" y="113.8" width="0.8" height="9.2" fill="#6a55b0" opacity="0.55"/>
<rect x="331" y="113.8" width="4.2" height="9.2" fill="#5a6bbb"/>
<rect x="331" y="113.8" width="1" height="9.2" fill="#8a3f9f" opacity="0.55"/>
<rect x="335" y="113.8" width="8.2" height="9.2" fill="#4482c4"/>
<rect x="337.2" y="113.8" width="1" height="9.2" fill="#4a80c4" opacity="0.55"/>
<rect x="338.2" y="113.8" width="1" height="9.2" fill="#9a3d9c" opacity="0.55"/>
<rect x="339.2" y="113.8" width="1.2" height="9.2" fill="#9a3d9c" opacity="0.55"/>
<rect x="340.4" y="113.8" width="1.2" height="9.2" fill="#6a55b0" opacity="0.55"/>
<rect x="343" y="113.8" width="5.7" height="9.2" fill="#6a58b3"/>
<rect x="343" y="113.8" width="1" height="9.2" fill="#6a55b0" opacity="0.55"/>
<rect x="346" y="113.8" width="1.2" height="9.2" fill="#6a55b0" opacity="0.55"/>
<rect x="348.5" y="113.8" width="1.3" height="9.2" fill="#e8c040"/>
<rect x="349.7" y="113.8" width="4.5" height="9.2" fill="#4e7cc0"/>
<rect x="352.7" y="113.8" width="1" height="9.2" fill="#8a3f9f" opacity="0.55"/>
<rect x="354" y="113.8" width="5" height="9.2" fill="#7e4aa8"/>
<rect x="355.6" y="113.8" width="1" height="9.2" fill="#9a3d9c" opacity="0.55"/>
<rect x="357.4" y="113.8" width="0.8" height="9.2" fill="#6a55b0" opacity="0.55"/>
<rect x="358.8" y="113.8" width="1.3" height="9.2" fill="#e8c040"/>
<rect x="360" y="113.8" width="11" height="9.2" fill="#3f8ac8"/>
<rect x="362.2" y="113.8" width="1" height="9.2" fill="#8a3f9f" opacity="0.55"/>
<rect x="366.4" y="113.8" width="0.8" height="9.2" fill="#8a3f9f" opacity="0.55"/>
<rect x="369.4" y="113.8" width="0.8" height="9.2" fill="#9a3d9c" opacity="0.55"/>
<rect x="370.8" y="113.8" width="20.1" height="9.2" fill="#8a3c9e"/>
<rect x="370.8" y="113.8" width="1" height="9.2" fill="#6a55b0" opacity="0.55"/>
<rect x="371.8" y="113.8" width="1" height="9.2" fill="#9a3d9c" opacity="0.55"/>
<rect x="372.8" y="113.8" width="1" height="9.2" fill="#8a3f9f" opacity="0.55"/>
<rect x="380.8" y="113.8" width="1.2" height="9.2" fill="#4a80c4" opacity="0.55"/>
<rect x="383.8" y="113.8" width="1" height="9.2" fill="#8a3f9f" opacity="0.55"/>
<rect x="384.8" y="113.8" width="1.2" height="9.2" fill="#6a55b0" opacity="0.55"/>
<rect x="390.8" y="113.8" width="5.3" height="9.2" fill="#5a62b5"/>
<rect x="390.8" y="113.8" width="1" height="9.2" fill="#4a80c4" opacity="0.55"/>
<rect x="391.8" y="113.8" width="1.2" height="9.2" fill="#8a3f9f" opacity="0.55"/>
<rect x="396" y="113.8" width="8" height="9.2" fill="#7448aa"/>
<rect x="397" y="113.8" width="1.2" height="9.2" fill="#9a3d9c" opacity="0.55"/>
<rect x="399.4" y="113.8" width="1" height="9.2" fill="#6a55b0" opacity="0.55"/>
<rect x="400.4" y="113.8" width="1.2" height="9.2" fill="#9a3d9c" opacity="0.55"/>
<rect x="403.8" y="113.8" width="2.3" height="9.2" fill="#f0b020"/>
<rect x="406" y="113.8" width="2.6" height="9.2" fill="#6a7a9a"/>
<rect x="406" y="113.8" width="0.8" height="9.2" fill="#6a55b0" opacity="0.55"/>
<rect x="408.5" y="113.8" width="6.7" height="9.2" fill="#5a5fb5"/>
<rect x="408.5" y="113.8" width="0.8" height="9.2" fill="#4a80c4" opacity="0.55"/>
<rect x="410.3" y="113.8" width="1" height="9.2" fill="#8a3f9f" opacity="0.55"/>
<rect x="411.3" y="113.8" width="1.2" height="9.2" fill="#8a3f9f" opacity="0.55"/>
<rect x="413.5" y="113.8" width="0.8" height="9.2" fill="#9a3d9c" opacity="0.55"/>
<rect x="415" y="113.8" width="3.1" height="9.2" fill="#8a45a5"/>
<rect x="415.8" y="113.8" width="0.8" height="9.2" fill="#9a3d9c" opacity="0.55"/>
<rect x="418" y="113.8" width="3.1" height="9.2" fill="#4a7cc0"/>
<rect x="418.8" y="113.8" width="1.2" height="9.2" fill="#9a3d9c" opacity="0.55"/>
<rect x="420" y="113.8" width="1" height="9.2" fill="#9a3d9c" opacity="0.55"/>
<rect x="421" y="113.8" width="1.8" height="9.2" fill="#f0b020"/>
<rect x="422.7" y="113.8" width="6.3" height="9.2" fill="#3f86c6"/>
<rect x="422.7" y="113.8" width="1.2" height="9.2" fill="#6a55b0" opacity="0.55"/>
<rect x="427.9" y="113.8" width="0.9" height="9.2" fill="#9a3d9c" opacity="0.55"/>
<rect x="428.8" y="113.8" width="1.7" height="9.2" fill="#f0b020"/>
<rect x="430.4" y="113.8" width="1.8" height="9.2" fill="#8a45a5"/>
<rect x="430.4" y="113.8" width="1.2" height="9.2" fill="#4a80c4" opacity="0.55"/>
<rect x="432" y="113.8" width="1.6" height="9.2" fill="#f0b020"/>
<rect x="433.5" y="113.8" width="2.5" height="9.2" fill="#4682c4"/>
<rect x="435.8" y="113.8" width="2.3" height="9.2" fill="#f0b020"/>
<rect x="438" y="113.8" width="2.5" height="9.2" fill="#6a5db5"/>
<rect x="440.4" y="113.8" width="1.8" height="9.2" fill="#f0b020"/>
<rect x="442" y="113.8" width="4" height="9.2" fill="#4682c4"/>
<rect x="445.8" y="113.8" width="1.6" height="9.2" fill="#f0b020"/>
<rect x="447.3" y="113.8" width="5.5" height="9.2" fill="#4682c4"/>
<rect x="448.1" y="113.8" width="1" height="9.2" fill="#9a3d9c" opacity="0.55"/>
<rect x="451.1" y="113.8" width="0.8" height="9.2" fill="#8a3f9f" opacity="0.55"/>
<rect x="452.7" y="113.8" width="11.7" height="9.2" fill="#f4b21a"/>
<rect x="464.2" y="113.8" width="2.5" height="9.2" fill="#4682c4"/>
<rect x="466.5" y="113.8" width="8.7" height="9.2" fill="#4a80c2"/>
<rect x="466.5" y="113.8" width="1.2" height="9.2" fill="#4a80c4" opacity="0.55"/>
<rect x="468.5" y="113.8" width="0.8" height="9.2" fill="#6a55b0" opacity="0.55"/>
<rect x="469.3" y="113.8" width="0.8" height="9.2" fill="#8a3f9f" opacity="0.55"/>
<rect x="470.1" y="113.8" width="1.2" height="9.2" fill="#4a80c4" opacity="0.55"/>
<rect x="471.3" y="113.8" width="1.2" height="9.2" fill="#9a3d9c" opacity="0.55"/>
<rect x="473.3" y="113.8" width="1.2" height="9.2" fill="#6a55b0" opacity="0.55"/>
<rect x="475" y="113.8" width="3.1" height="9.2" fill="#8a45a5"/>
<rect x="475" y="113.8" width="1.2" height="9.2" fill="#4a80c4" opacity="0.55"/>
<rect x="478" y="113.8" width="4.8" height="9.2" fill="#5a62b5"/>
<rect x="479.8" y="113.8" width="1" height="9.2" fill="#6a55b0" opacity="0.55"/>
<rect x="482" y="113.8" width="0.7" height="9.2" fill="#9a3d9c" opacity="0.55"/>
<rect x="482.7" y="113.8" width="1.6" height="9.2" fill="#f0b020"/>
<rect x="484.2" y="113.8" width="6.5" height="9.2" fill="#6258b5"/>
<rect x="484.2" y="113.8" width="1" height="9.2" fill="#8a3f9f" opacity="0.55"/>
<rect x="487.2" y="113.8" width="0.8" height="9.2" fill="#4a80c4" opacity="0.55"/>
<rect x="488" y="113.8" width="0.8" height="9.2" fill="#8a3f9f" opacity="0.55"/>
<rect x="488.8" y="113.8" width="0.8" height="9.2" fill="#8a3f9f" opacity="0.55"/>
<defs>
<filter id="hm0" x="0" y="0" width="1" height="1" color-interpolation-filters="sRGB"><feTurbulence type="fractalNoise" baseFrequency="0.6 0.12" numOctaves="2" seed="3"/><feComponentTransfer><feFuncR type="linear" slope="3.0" intercept="-1.5"/><feFuncG type="linear" slope="3.0" intercept="-1.55"/><feFuncA type="linear" slope="0" intercept="1"/></feComponentTransfer><feColorMatrix type="matrix" values="0 -0.055 0 0 0.988  -0.05 -0.05 0 0 0.97  -0.045 -0.01 0 0 0.978  0 0 0 0 1"/></filter>
<filter id="hmB" x="0" y="0" width="1" height="1" color-interpolation-filters="sRGB"><feTurbulence type="fractalNoise" baseFrequency="0.6 0.12" numOctaves="2" seed="5"/><feComponentTransfer><feFuncR type="linear" slope="3.0" intercept="-1.55"/><feFuncG type="linear" slope="3.2" intercept="-1.4"/><feFuncA type="linear" slope="0" intercept="1"/></feComponentTransfer><feColorMatrix type="matrix" values="0 -0.12 0 0 0.988  -0.05 -0.11 0 0 0.97  -0.045 -0.02 0 0 0.978  0 0 0 0 1"/></filter>
<filter id="hmP" x="0" y="0" width="1" height="1" color-interpolation-filters="sRGB"><feTurbulence type="fractalNoise" baseFrequency="0.6 0.12" numOctaves="2" seed="8"/><feComponentTransfer><feFuncR type="linear" slope="3.2" intercept="-1.45"/><feFuncG type="linear" slope="3.0" intercept="-1.6"/><feFuncA type="linear" slope="0" intercept="1"/></feComponentTransfer><feColorMatrix type="matrix" values="0 -0.055 0 0 0.988  -0.1 -0.05 0 0 0.97  -0.09 -0.01 0 0 0.978  0 0 0 0 1"/></filter>
<filter id="hmW" x="0" y="0" width="1" height="1" color-interpolation-filters="sRGB"><feTurbulence type="fractalNoise" baseFrequency="0.6 0.12" numOctaves="2" seed="9"/><feComponentTransfer><feFuncR type="linear" slope="2.0" intercept="-1.1"/><feFuncG type="linear" slope="2.0" intercept="-1.05"/><feFuncA type="linear" slope="0" intercept="1"/></feComponentTransfer><feColorMatrix type="matrix" values="0 -0.06 0 0 0.975  -0.05 -0.05 0 0 0.975  -0.04 -0.01 0 0 0.985  0 0 0 0 1"/></filter>
</defs>
<rect x="265.3" y="124.6" width="225.7" height="218.4" fill="#fff" filter="url(#hm0)"/>
<rect x="280" y="129" width="27" height="139" fill="#fff" filter="url(#hmB)"/>
<rect x="369" y="129" width="14" height="133" fill="#fff" filter="url(#hmB)"/>
<rect x="387" y="130" width="18" height="70" fill="#fff" filter="url(#hmP)"/>
<rect x="450" y="130" width="23" height="110" fill="#fff" filter="url(#hmP)"/>
<rect x="477" y="140" width="9" height="82" fill="#fff" filter="url(#hmB)"/>
<rect x="280" y="304" width="20" height="39" fill="#fff" filter="url(#hmP)"/>
<rect x="455" y="310" width="15" height="22" fill="#fff" filter="url(#hmB)"/>
<rect x="265.3" y="124.6" width="9.7" height="218.4" fill="#fff" filter="url(#hmP)"/>
<rect x="267.6" y="274.5" width="207.9" height="29.5" fill="#fff" filter="url(#hmW)"/>
<defs><linearGradient id="rb" x1="0" x2="1" y1="0" y2="0"><stop offset="0" stop-color="#ef8f96"/><stop offset="1" stop-color="#f8c4c8"/></linearGradient></defs>
<rect x="475.5" y="274.5" width="15.5" height="29.5" fill="url(#rb)"/>
<rect x="475.5" y="274.5" width="15.5" height="29.5" fill="#fff" filter="url(#hmP)" opacity="0.35"/>
<rect x="265.3" y="272.5" width="2.3" height="31.5" fill="#cc4b55"/>
<defs><linearGradient id="zg" x1="0" x2="1" y1="0" y2="0"><stop offset="0" stop-color="#33378f"/><stop offset="0.22" stop-color="#7073bb"/><stop offset="0.5" stop-color="#ffffff"/><stop offset="0.78" stop-color="#ef8088"/><stop offset="1" stop-color="#db0a1a"/></linearGradient></defs>
<rect x="424" y="19.2" width="57.8" height="15" fill="url(#zg)"/>
<text x="453" y="17" font-size="6.2" fill="#444" stroke="#444" text-anchor="middle">Z-score</text>
<line x1="435.4" y1="34.2" x2="435.4" y2="35.6" stroke="#555" stroke-width="0.7"/>
<text x="435.4" y="44" font-size="6.4" fill="#444" stroke="#444" text-anchor="middle">−5</text>
<line x1="452" y1="34.2" x2="452" y2="35.6" stroke="#555" stroke-width="0.7"/>
<text x="452" y="44" font-size="6.4" fill="#444" stroke="#444" text-anchor="middle">0</text>
<line x1="468.5" y1="34.2" x2="468.5" y2="35.6" stroke="#555" stroke-width="0.7"/>
<text x="468.5" y="44" font-size="6.4" fill="#444" stroke="#444" text-anchor="middle">5</text>
<defs><clipPath id="clA"><circle cx="112.6" cy="256.2" r="60"/></clipPath><clipPath id="clB"><circle cx="172.2" cy="256.2" r="60"/></clipPath><clipPath id="clC"><circle cx="142.8" cy="306.8" r="59.7"/></clipPath></defs>
<circle cx="112.6" cy="256.2" r="60" fill="#cea9d2"/>
<circle cx="172.2" cy="256.2" r="60" fill="#b0cbec"/>
<circle cx="142.8" cy="306.8" r="59.7" fill="#f7dda0"/>
<g clip-path="url(#clA)"><circle cx="172.2" cy="256.2" r="60" fill="#8c94c8"/></g>
<g clip-path="url(#clA)"><circle cx="142.8" cy="306.8" r="59.7" fill="#e4ae96"/></g>
<g clip-path="url(#clB)"><circle cx="142.8" cy="306.8" r="59.7" fill="#d0c4a0"/></g>
<g clip-path="url(#clA)"><g clip-path="url(#clB)"><circle cx="142.8" cy="306.8" r="59.7" fill="#c3aa99"/></g></g>
<circle cx="112.6" cy="256.2" r="60" fill="none" stroke="#35324a" stroke-width="0.95"/>
<circle cx="172.2" cy="256.2" r="60" fill="none" stroke="#35324a" stroke-width="0.95"/>
<circle cx="142.8" cy="306.8" r="59.7" fill="none" stroke="#35324a" stroke-width="0.95"/>
<text x="86" y="242.7" font-size="6.6" fill="#222" stroke="#222" text-anchor="middle">1184</text>
<text x="141.5" y="227" font-size="6.6" fill="#222" stroke="#222" text-anchor="middle">996</text>
<text x="198.4" y="242.7" font-size="6.6" fill="#222" stroke="#222" text-anchor="middle">203</text>
<text x="141.5" y="274.7" font-size="6.6" fill="#222" stroke="#222" text-anchor="middle">3811</text>
<text x="101.2" y="298.3" font-size="6.6" fill="#222" stroke="#222" text-anchor="middle">132</text>
<text x="183.4" y="298.3" font-size="6.6" fill="#222" stroke="#222" text-anchor="middle">806</text>
<text x="142.7" y="339.5" font-size="6.6" fill="#222" stroke="#222" text-anchor="middle">1064</text>
<text x="37.2" y="201" font-size="6.6" fill="#333" stroke="#333">MP-CMML<tspan font-size="4.1" dy="2.0">sct</tspan></text>
<text x="206.3" y="201" font-size="6.6" fill="#333" stroke="#333">MD-CMML<tspan font-size="4.1" dy="2.0">sct</tspan></text>
<text x="132.9" y="377.3" font-size="6.6" fill="#333" stroke="#333">WHO<tspan font-size="4.1" dy="2.0">new</tspan></text>
<rect x="31.9" y="423.5" width="217.9" height="149.1" fill="#ffffff" stroke="#b4b4b4" stroke-width="1"/>
<line x1="29.4" y1="566.3" x2="31.9" y2="566.3" stroke="#333" stroke-width="0.9"/>
<text x="26.8" y="568.6" font-size="6.4" fill="#444" stroke="#444" text-anchor="end">0</text>
<line x1="29.4" y1="532.4" x2="31.9" y2="532.4" stroke="#333" stroke-width="0.9"/>
<text x="26.8" y="534.7" font-size="6.4" fill="#444" stroke="#444" text-anchor="end">3</text>
<line x1="29.4" y1="498.5" x2="31.9" y2="498.5" stroke="#333" stroke-width="0.9"/>
<text x="26.8" y="500.8" font-size="6.4" fill="#444" stroke="#444" text-anchor="end">6</text>
<line x1="29.4" y1="464.6" x2="31.9" y2="464.6" stroke="#333" stroke-width="0.9"/>
<text x="26.8" y="466.9" font-size="6.4" fill="#444" stroke="#444" text-anchor="end">9</text>
<line x1="29.4" y1="430.7" x2="31.9" y2="430.7" stroke="#333" stroke-width="0.9"/>
<text x="26.8" y="433" font-size="6.4" fill="#444" stroke="#444" text-anchor="end">12</text>
<line x1="41.3" y1="572.6" x2="41.3" y2="575" stroke="#333" stroke-width="0.9"/>
<text x="41.3" y="583.9" font-size="6.4" fill="#444" stroke="#444" text-anchor="middle">−3</text>
<line x1="74.4" y1="572.6" x2="74.4" y2="575" stroke="#333" stroke-width="0.9"/>
<text x="74.4" y="583.9" font-size="6.4" fill="#444" stroke="#444" text-anchor="middle">−2</text>
<line x1="107.5" y1="572.6" x2="107.5" y2="575" stroke="#333" stroke-width="0.9"/>
<text x="107.5" y="583.9" font-size="6.4" fill="#444" stroke="#444" text-anchor="middle">−1</text>
<line x1="140.6" y1="572.6" x2="140.6" y2="575" stroke="#333" stroke-width="0.9"/>
<text x="140.6" y="583.9" font-size="6.4" fill="#444" stroke="#444" text-anchor="middle">0</text>
<line x1="173.7" y1="572.6" x2="173.7" y2="575" stroke="#333" stroke-width="0.9"/>
<text x="173.7" y="583.9" font-size="6.4" fill="#444" stroke="#444" text-anchor="middle">1</text>
<line x1="206.8" y1="572.6" x2="206.8" y2="575" stroke="#333" stroke-width="0.9"/>
<text x="206.8" y="583.9" font-size="6.4" fill="#444" stroke="#444" text-anchor="middle">2</text>
<line x1="239.9" y1="572.6" x2="239.9" y2="575" stroke="#333" stroke-width="0.9"/>
<text x="239.9" y="583.9" font-size="6.4" fill="#444" stroke="#444" text-anchor="middle">3</text>
<text x="133.5" y="595" font-size="8" fill="#444" stroke="#444" text-anchor="middle" textLength="19" lengthAdjust="spacingAndGlyphs">LogFC</text>
<text transform="translate(15.6 499.8) rotate(-90)" x="0" y="0" font-size="8" fill="#444" stroke="#444" text-anchor="middle" textLength="40" lengthAdjust="spacingAndGlyphs">-Log10(FDR)</text>
<text x="92.7" y="417.9" font-size="6.6" fill="#333" stroke="#333" textLength="15.8" lengthAdjust="spacingAndGlyphs">WHO</text>
<text x="108.8" y="420" font-size="3.6" fill="#333" stroke="#333">new</text>
<text x="117.7" y="417.9" font-size="6.6" fill="#333" stroke="#333" textLength="42" lengthAdjust="spacingAndGlyphs">vs. MD-CMML</text>
<text x="160.2" y="420" font-size="3.6" fill="#333" stroke="#333">sct</text>
<polygon points="108.5,492 112,490 120,489.5 127,490 131,493 132.8,500 135,519 137.2,538.5 140.5,555.5 143.7,541 146,527.7 147.5,512.4 149.2,494.8 153.6,481.7 158,475 164,471.5 173.8,471 173.8,559.5 165,563.5 152,567 140.5,568.5 128,567 115,563 108,559.5" fill="#585656" stroke="#585656" stroke-width="1.5" stroke-linejoin="round"/>
<g fill="#585656">
<circle cx="108.1" cy="492.2" r="1.9"/>
<circle cx="112.2" cy="490" r="1.9"/>
<circle cx="115.7" cy="490.1" r="1.9"/>
<circle cx="120.4" cy="489.5" r="1.9"/>
<circle cx="123.5" cy="489.4" r="1.9"/>
<circle cx="126.4" cy="489.8" r="1.9"/>
<circle cx="131.1" cy="492.5" r="1.9"/>
<circle cx="132.3" cy="496.2" r="1.9"/>
<circle cx="132.5" cy="499.5" r="1.9"/>
<circle cx="133.8" cy="503.5" r="1.9"/>
<circle cx="134" cy="506.5" r="1.9"/>
<circle cx="133.3" cy="509.3" r="1.9"/>
<circle cx="134.3" cy="512.2" r="1.9"/>
<circle cx="135.2" cy="515.7" r="1.9"/>
<circle cx="134.6" cy="519.4" r="1.9"/>
<circle cx="134.9" cy="522.8" r="1.9"/>
<circle cx="135.7" cy="525.6" r="1.9"/>
<circle cx="135.9" cy="528.7" r="1.9"/>
<circle cx="136.1" cy="531.4" r="1.9"/>
<circle cx="137.3" cy="534.9" r="1.9"/>
<circle cx="137.5" cy="538.2" r="1.9"/>
<circle cx="138.4" cy="542.4" r="1.9"/>
<circle cx="138.8" cy="545.6" r="1.9"/>
<circle cx="139.3" cy="549" r="1.9"/>
<circle cx="139.4" cy="552.1" r="1.9"/>
<circle cx="140.9" cy="555.1" r="1.9"/>
<circle cx="141.8" cy="552.3" r="1.9"/>
<circle cx="142" cy="548.1" r="1.9"/>
<circle cx="142.8" cy="544.5" r="1.9"/>
<circle cx="144.3" cy="540.9" r="1.9"/>
<circle cx="143.7" cy="537.2" r="1.9"/>
<circle cx="145.1" cy="534.9" r="1.9"/>
<circle cx="145.4" cy="531" r="1.9"/>
<circle cx="146.1" cy="528" r="1.9"/>
<circle cx="146" cy="524.8" r="1.9"/>
<circle cx="146.7" cy="521.7" r="1.9"/>
<circle cx="146.5" cy="518.1" r="1.9"/>
<circle cx="147" cy="516" r="1.9"/>
<circle cx="147.3" cy="512.5" r="1.9"/>
<circle cx="147.6" cy="508.4" r="1.9"/>
<circle cx="147.7" cy="505.7" r="1.9"/>
<circle cx="148.9" cy="501.7" r="1.9"/>
<circle cx="149.1" cy="498.5" r="1.9"/>
<circle cx="149.7" cy="495.3" r="1.9"/>
<circle cx="150.2" cy="492.1" r="1.9"/>
<circle cx="152" cy="488.4" r="1.9"/>
<circle cx="153" cy="485" r="1.9"/>
<circle cx="153.5" cy="481.4" r="1.9"/>
<circle cx="156.3" cy="477.9" r="1.9"/>
<circle cx="157.5" cy="475.4" r="1.9"/>
<circle cx="161.3" cy="473.2" r="1.9"/>
<circle cx="164.4" cy="471" r="1.9"/>
<circle cx="167" cy="471.1" r="1.9"/>
<circle cx="170.4" cy="470.8" r="1.9"/>
<circle cx="173.3" cy="470.8" r="1.9"/>
<circle cx="174.3" cy="474.6" r="1.9"/>
<circle cx="174.1" cy="477.1" r="1.9"/>
<circle cx="173.5" cy="480.7" r="1.9"/>
<circle cx="173.8" cy="483.5" r="1.9"/>
<circle cx="173.2" cy="485.9" r="1.9"/>
<circle cx="174.2" cy="489.7" r="1.9"/>
<circle cx="174.3" cy="492.5" r="1.9"/>
<circle cx="173.7" cy="495.5" r="1.9"/>
<circle cx="174.2" cy="498.2" r="1.9"/>
<circle cx="173.8" cy="501.2" r="1.9"/>
<circle cx="174.1" cy="504" r="1.9"/>
<circle cx="174" cy="508.2" r="1.9"/>
<circle cx="173.2" cy="510.8" r="1.9"/>
<circle cx="174" cy="514.1" r="1.9"/>
<circle cx="173.9" cy="516.5" r="1.9"/>
<circle cx="173.7" cy="520.4" r="1.9"/>
<circle cx="174.3" cy="522.4" r="1.9"/>
<circle cx="173.3" cy="525.4" r="1.9"/>
<circle cx="173.2" cy="528.9" r="1.9"/>
<circle cx="173.4" cy="532.5" r="1.9"/>
<circle cx="174" cy="534.6" r="1.9"/>
<circle cx="173.8" cy="537.9" r="1.9"/>
<circle cx="173.8" cy="540.9" r="1.9"/>
<circle cx="173.4" cy="543.9" r="1.9"/>
<circle cx="173.7" cy="547.5" r="1.9"/>
<circle cx="173.9" cy="549.8" r="1.9"/>
<circle cx="174.1" cy="553.8" r="1.9"/>
<circle cx="174.1" cy="556.8" r="1.9"/>
<circle cx="173.2" cy="559.5" r="1.9"/>
<circle cx="170.3" cy="561.2" r="1.9"/>
<circle cx="167.5" cy="562.4" r="1.9"/>
<circle cx="164.7" cy="563.7" r="1.9"/>
<circle cx="161.5" cy="563.8" r="1.9"/>
<circle cx="158.4" cy="565" r="1.9"/>
<circle cx="155.7" cy="565.9" r="1.9"/>
<circle cx="152" cy="567.1" r="1.9"/>
<circle cx="148.7" cy="567" r="1.9"/>
<circle cx="144.5" cy="568" r="1.9"/>
<circle cx="140.8" cy="569.1" r="1.9"/>
<circle cx="137.1" cy="568.4" r="1.9"/>
<circle cx="134.3" cy="567.8" r="1.9"/>
<circle cx="130.6" cy="567.8" r="1.9"/>
<circle cx="128.6" cy="566.8" r="1.9"/>
<circle cx="124.5" cy="566.6" r="1.9"/>
<circle cx="121" cy="564.5" r="1.9"/>
<circle cx="117.7" cy="564.4" r="1.9"/>
<circle cx="115.3" cy="562.9" r="1.9"/>
<circle cx="111.6" cy="560.7" r="1.9"/>
<circle cx="108.2" cy="559.4" r="1.9"/>
<circle cx="108" cy="556.3" r="1.9"/>
<circle cx="107.9" cy="553" r="1.9"/>
<circle cx="107.5" cy="550.2" r="1.9"/>
<circle cx="107.8" cy="547.5" r="1.9"/>
<circle cx="108.5" cy="544.4" r="1.9"/>
<circle cx="108.1" cy="540.8" r="1.9"/>
<circle cx="108" cy="538" r="1.9"/>
<circle cx="108.3" cy="535.5" r="1.9"/>
<circle cx="107.7" cy="531.9" r="1.9"/>
<circle cx="108.2" cy="529.1" r="1.9"/>
<circle cx="108.7" cy="526.1" r="1.9"/>
<circle cx="108.4" cy="523" r="1.9"/>
<circle cx="108.5" cy="520" r="1.9"/>
<circle cx="108.6" cy="516.8" r="1.9"/>
<circle cx="108" cy="514" r="1.9"/>
<circle cx="108.2" cy="510.5" r="1.9"/>
<circle cx="108.8" cy="507.9" r="1.9"/>
<circle cx="109" cy="503.7" r="1.9"/>
<circle cx="108.2" cy="501" r="1.9"/>
<circle cx="108.3" cy="497.7" r="1.9"/>
<circle cx="108.5" cy="494.6" r="1.9"/>
</g>
<polygon points="107.8,499 104.5,500 101.5,504 99.5,511 98.2,519 98.5,528 97.5,538 98.5,546 101,551.5 107.8,552" fill="#2d238c" stroke="#2d238c" stroke-width="1.5" stroke-linejoin="round"/>
<polygon points="173.8,474.5 178,473.5 182.5,478 186,484 187.5,492 189.5,505 191,518 190.5,532 189,544 185.5,551.5 173.8,552" fill="#961410" stroke="#961410" stroke-width="1.5" stroke-linejoin="round"/>
<circle cx="173.2" cy="475.8" r="2.5" fill="#b8282c" fill-opacity="0.85" stroke="#8a1418" stroke-width="0.6"/>
<circle cx="178.7" cy="473.4" r="2.5" fill="#b8282c" fill-opacity="0.85" stroke="#8a1418" stroke-width="0.6"/>
<circle cx="181.3" cy="479.4" r="2.5" fill="#b8282c" fill-opacity="0.85" stroke="#8a1418" stroke-width="0.6"/>
<circle cx="186.6" cy="483.1" r="2.5" fill="#b8282c" fill-opacity="0.85" stroke="#8a1418" stroke-width="0.6"/>
<circle cx="186.3" cy="488.4" r="2.5" fill="#b8282c" fill-opacity="0.85" stroke="#8a1418" stroke-width="0.6"/>
<circle cx="188" cy="491.3" r="2.5" fill="#b8282c" fill-opacity="0.85" stroke="#8a1418" stroke-width="0.6"/>
<circle cx="189.5" cy="495.8" r="2.5" fill="#b8282c" fill-opacity="0.85" stroke="#8a1418" stroke-width="0.6"/>
<circle cx="188.1" cy="501.7" r="2.5" fill="#b8282c" fill-opacity="0.85" stroke="#8a1418" stroke-width="0.6"/>
<circle cx="188.5" cy="505.5" r="2.5" fill="#b8282c" fill-opacity="0.85" stroke="#8a1418" stroke-width="0.6"/>
<circle cx="189.1" cy="509.6" r="2.5" fill="#b8282c" fill-opacity="0.85" stroke="#8a1418" stroke-width="0.6"/>
<circle cx="189.8" cy="513.3" r="2.5" fill="#b8282c" fill-opacity="0.85" stroke="#8a1418" stroke-width="0.6"/>
<circle cx="192.3" cy="517.9" r="2.5" fill="#b8282c" fill-opacity="0.85" stroke="#8a1418" stroke-width="0.6"/>
<circle cx="190.7" cy="521.9" r="2.5" fill="#b8282c" fill-opacity="0.85" stroke="#8a1418" stroke-width="0.6"/>
<circle cx="190.1" cy="524" r="2.5" fill="#b8282c" fill-opacity="0.85" stroke="#8a1418" stroke-width="0.6"/>
<circle cx="190.3" cy="527.8" r="2.5" fill="#b8282c" fill-opacity="0.85" stroke="#8a1418" stroke-width="0.6"/>
<circle cx="189.6" cy="533.4" r="2.5" fill="#b8282c" fill-opacity="0.85" stroke="#8a1418" stroke-width="0.6"/>
<circle cx="188.6" cy="536.9" r="2.5" fill="#b8282c" fill-opacity="0.85" stroke="#8a1418" stroke-width="0.6"/>
<circle cx="190.8" cy="540.6" r="2.5" fill="#b8282c" fill-opacity="0.85" stroke="#8a1418" stroke-width="0.6"/>
<circle cx="187.6" cy="544" r="2.5" fill="#b8282c" fill-opacity="0.85" stroke="#8a1418" stroke-width="0.6"/>
<circle cx="185.9" cy="548.1" r="2.5" fill="#b8282c" fill-opacity="0.85" stroke="#8a1418" stroke-width="0.6"/>
<circle cx="186.1" cy="550.7" r="2.5" fill="#b8282c" fill-opacity="0.85" stroke="#8a1418" stroke-width="0.6"/>
<circle cx="180.1" cy="551.8" r="2.5" fill="#b8282c" fill-opacity="0.85" stroke="#8a1418" stroke-width="0.6"/>
<circle cx="176.5" cy="551.3" r="2.5" fill="#b8282c" fill-opacity="0.85" stroke="#8a1418" stroke-width="0.6"/>
<circle cx="104.1" cy="498.9" r="2.5" fill="#3e35a0" fill-opacity="0.85" stroke="#27208a" stroke-width="0.6"/>
<circle cx="102.4" cy="505" r="2.5" fill="#3e35a0" fill-opacity="0.85" stroke="#27208a" stroke-width="0.6"/>
<circle cx="100.6" cy="506.1" r="2.5" fill="#3e35a0" fill-opacity="0.85" stroke="#27208a" stroke-width="0.6"/>
<circle cx="98.6" cy="510.7" r="2.5" fill="#3e35a0" fill-opacity="0.85" stroke="#27208a" stroke-width="0.6"/>
<circle cx="99" cy="514.2" r="2.5" fill="#3e35a0" fill-opacity="0.85" stroke="#27208a" stroke-width="0.6"/>
<circle cx="99.1" cy="520" r="2.5" fill="#3e35a0" fill-opacity="0.85" stroke="#27208a" stroke-width="0.6"/>
<circle cx="99.6" cy="524.7" r="2.5" fill="#3e35a0" fill-opacity="0.85" stroke="#27208a" stroke-width="0.6"/>
<circle cx="97.1" cy="528.2" r="2.5" fill="#3e35a0" fill-opacity="0.85" stroke="#27208a" stroke-width="0.6"/>
<circle cx="96.7" cy="534.2" r="2.5" fill="#3e35a0" fill-opacity="0.85" stroke="#27208a" stroke-width="0.6"/>
<circle cx="98.2" cy="538.8" r="2.5" fill="#3e35a0" fill-opacity="0.85" stroke="#27208a" stroke-width="0.6"/>
<circle cx="97.1" cy="540.7" r="2.5" fill="#3e35a0" fill-opacity="0.85" stroke="#27208a" stroke-width="0.6"/>
<circle cx="99.4" cy="546.3" r="2.5" fill="#3e35a0" fill-opacity="0.85" stroke="#27208a" stroke-width="0.6"/>
<circle cx="101.4" cy="551.4" r="2.5" fill="#3e35a0" fill-opacity="0.85" stroke="#27208a" stroke-width="0.6"/>
<circle cx="113" cy="482" r="2.5" fill="#a0a0a0" fill-opacity="0.85" stroke="#727272" stroke-width="0.6"/>
<circle cx="118" cy="482.5" r="2.5" fill="#a0a0a0" fill-opacity="0.85" stroke="#727272" stroke-width="0.6"/>
<circle cx="126" cy="482" r="2.5" fill="#a0a0a0" fill-opacity="0.85" stroke="#727272" stroke-width="0.6"/>
<circle cx="121.5" cy="478.5" r="2.5" fill="#a0a0a0" fill-opacity="0.85" stroke="#727272" stroke-width="0.6"/>
<circle cx="110.5" cy="489" r="2.5" fill="#a0a0a0" fill-opacity="0.85" stroke="#727272" stroke-width="0.6"/>
<circle cx="112" cy="494" r="2.5" fill="#a0a0a0" fill-opacity="0.85" stroke="#727272" stroke-width="0.6"/>
<circle cx="78.2" cy="554.7" r="2.5" fill="#a8a8a8" fill-opacity="0.8" stroke="#7c7c7c" stroke-width="0.6"/>
<circle cx="116.3" cy="455.1" r="2.5" fill="#a8a8a8" fill-opacity="0.8" stroke="#7c7c7c" stroke-width="0.6"/>
<circle cx="174.6" cy="467" r="2.5" fill="#a8a8a8" fill-opacity="0.8" stroke="#7c7c7c" stroke-width="0.6"/>
<circle cx="170" cy="467.5" r="2.5" fill="#a8a8a8" fill-opacity="0.8" stroke="#7c7c7c" stroke-width="0.6"/>
<circle cx="165.5" cy="469.5" r="2.5" fill="#a8a8a8" fill-opacity="0.8" stroke="#7c7c7c" stroke-width="0.6"/>
<circle cx="160" cy="471" r="2.5" fill="#a8a8a8" fill-opacity="0.8" stroke="#7c7c7c" stroke-width="0.6"/>
<circle cx="156" cy="474.5" r="2.5" fill="#a8a8a8" fill-opacity="0.8" stroke="#7c7c7c" stroke-width="0.6"/>
<circle cx="105.5" cy="561" r="2.5" fill="#a8a8a8" fill-opacity="0.8" stroke="#7c7c7c" stroke-width="0.6"/>
<circle cx="176.5" cy="558" r="2.5" fill="#a8a8a8" fill-opacity="0.8" stroke="#7c7c7c" stroke-width="0.6"/>
<circle cx="180.5" cy="556.5" r="2.5" fill="#a8a8a8" fill-opacity="0.8" stroke="#7c7c7c" stroke-width="0.6"/>
<circle cx="184.5" cy="555" r="2.5" fill="#a8a8a8" fill-opacity="0.8" stroke="#7c7c7c" stroke-width="0.6"/>
<circle cx="188.5" cy="553.5" r="2.5" fill="#a8a8a8" fill-opacity="0.8" stroke="#7c7c7c" stroke-width="0.6"/>
<circle cx="178" cy="560" r="2.5" fill="#a8a8a8" fill-opacity="0.8" stroke="#7c7c7c" stroke-width="0.6"/>
<circle cx="91.3" cy="473.8" r="2.5" fill="#7067bd" fill-opacity="0.75" stroke="#362c96" stroke-width="0.6"/>
<circle cx="101.6" cy="484.3" r="2.5" fill="#7067bd" fill-opacity="0.75" stroke="#362c96" stroke-width="0.6"/>
<circle cx="100.9" cy="489.7" r="2.5" fill="#7067bd" fill-opacity="0.75" stroke="#362c96" stroke-width="0.6"/>
<circle cx="88.5" cy="498.7" r="2.5" fill="#7067bd" fill-opacity="0.75" stroke="#362c96" stroke-width="0.6"/>
<circle cx="100.1" cy="496.8" r="2.5" fill="#7067bd" fill-opacity="0.75" stroke="#362c96" stroke-width="0.6"/>
<circle cx="104.8" cy="498.3" r="2.5" fill="#7067bd" fill-opacity="0.75" stroke="#362c96" stroke-width="0.6"/>
<circle cx="99.3" cy="506.2" r="2.5" fill="#7067bd" fill-opacity="0.75" stroke="#362c96" stroke-width="0.6"/>
<circle cx="97" cy="515.6" r="2.5" fill="#7067bd" fill-opacity="0.75" stroke="#362c96" stroke-width="0.6"/>
<circle cx="79.7" cy="518.7" r="2.5" fill="#7067bd" fill-opacity="0.75" stroke="#362c96" stroke-width="0.6"/>
<circle cx="86.8" cy="517.9" r="2.5" fill="#7067bd" fill-opacity="0.75" stroke="#362c96" stroke-width="0.6"/>
<circle cx="93.8" cy="520.3" r="2.5" fill="#7067bd" fill-opacity="0.75" stroke="#362c96" stroke-width="0.6"/>
<circle cx="70.3" cy="536.7" r="2.5" fill="#7067bd" fill-opacity="0.75" stroke="#362c96" stroke-width="0.6"/>
<circle cx="93.8" cy="538.2" r="2.5" fill="#7067bd" fill-opacity="0.75" stroke="#362c96" stroke-width="0.6"/>
<circle cx="96.2" cy="544.5" r="2.5" fill="#7067bd" fill-opacity="0.75" stroke="#362c96" stroke-width="0.6"/>
<circle cx="85.2" cy="550.5" r="2.5" fill="#7067bd" fill-opacity="0.75" stroke="#362c96" stroke-width="0.6"/>
<circle cx="102" cy="484" r="2.5" fill="#7067bd" fill-opacity="0.75" stroke="#362c96" stroke-width="0.6"/>
<circle cx="107.2" cy="487.3" r="2.5" fill="#7067bd" fill-opacity="0.75" stroke="#362c96" stroke-width="0.6"/>
<circle cx="94.5" cy="528" r="2.5" fill="#7067bd" fill-opacity="0.75" stroke="#362c96" stroke-width="0.6"/>
<circle cx="88.5" cy="511.5" r="2.5" fill="#7067bd" fill-opacity="0.75" stroke="#362c96" stroke-width="0.6"/>
<circle cx="95.5" cy="501" r="2.5" fill="#7067bd" fill-opacity="0.75" stroke="#362c96" stroke-width="0.6"/>
<circle cx="92" cy="532" r="2.5" fill="#7067bd" fill-opacity="0.75" stroke="#362c96" stroke-width="0.6"/>
<circle cx="94" cy="509" r="2.5" fill="#7067bd" fill-opacity="0.75" stroke="#362c96" stroke-width="0.6"/>
<circle cx="223.5" cy="473.5" r="2.5" fill="#cc5058" fill-opacity="0.75" stroke="#9c2029" stroke-width="0.6"/>
<circle cx="188.3" cy="476.3" r="2.5" fill="#cc5058" fill-opacity="0.75" stroke="#9c2029" stroke-width="0.6"/>
<circle cx="196.8" cy="479.2" r="2.5" fill="#cc5058" fill-opacity="0.75" stroke="#9c2029" stroke-width="0.6"/>
<circle cx="184.1" cy="481.3" r="2.5" fill="#cc5058" fill-opacity="0.75" stroke="#9c2029" stroke-width="0.6"/>
<circle cx="189.7" cy="483.4" r="2.5" fill="#cc5058" fill-opacity="0.75" stroke="#9c2029" stroke-width="0.6"/>
<circle cx="196" cy="485.5" r="2.5" fill="#cc5058" fill-opacity="0.75" stroke="#9c2029" stroke-width="0.6"/>
<circle cx="193.2" cy="487.6" r="2.5" fill="#cc5058" fill-opacity="0.75" stroke="#9c2029" stroke-width="0.6"/>
<circle cx="185.5" cy="488.3" r="2.5" fill="#cc5058" fill-opacity="0.75" stroke="#9c2029" stroke-width="0.6"/>
<circle cx="196.8" cy="492.5" r="2.5" fill="#cc5058" fill-opacity="0.75" stroke="#9c2029" stroke-width="0.6"/>
<circle cx="188.3" cy="496" r="2.5" fill="#cc5058" fill-opacity="0.75" stroke="#9c2029" stroke-width="0.6"/>
<circle cx="196.8" cy="499.6" r="2.5" fill="#cc5058" fill-opacity="0.75" stroke="#9c2029" stroke-width="0.6"/>
<circle cx="210.8" cy="500.3" r="2.5" fill="#cc5058" fill-opacity="0.75" stroke="#9c2029" stroke-width="0.6"/>
<circle cx="202.4" cy="505.2" r="2.5" fill="#cc5058" fill-opacity="0.75" stroke="#9c2029" stroke-width="0.6"/>
<circle cx="202.4" cy="511.5" r="2.5" fill="#cc5058" fill-opacity="0.75" stroke="#9c2029" stroke-width="0.6"/>
<circle cx="206.6" cy="512.3" r="2.5" fill="#cc5058" fill-opacity="0.75" stroke="#9c2029" stroke-width="0.6"/>
<circle cx="216.5" cy="513.7" r="2.5" fill="#cc5058" fill-opacity="0.75" stroke="#9c2029" stroke-width="0.6"/>
<circle cx="212.3" cy="513" r="2.5" fill="#cc5058" fill-opacity="0.75" stroke="#9c2029" stroke-width="0.6"/>
<circle cx="198.2" cy="516.5" r="2.5" fill="#cc5058" fill-opacity="0.75" stroke="#9c2029" stroke-width="0.6"/>
<circle cx="206.6" cy="517.2" r="2.5" fill="#cc5058" fill-opacity="0.75" stroke="#9c2029" stroke-width="0.6"/>
<circle cx="196.8" cy="520.7" r="2.5" fill="#cc5058" fill-opacity="0.75" stroke="#9c2029" stroke-width="0.6"/>
<circle cx="203.1" cy="525.6" r="2.5" fill="#cc5058" fill-opacity="0.75" stroke="#9c2029" stroke-width="0.6"/>
<circle cx="192.5" cy="526.3" r="2.5" fill="#cc5058" fill-opacity="0.75" stroke="#9c2029" stroke-width="0.6"/>
<circle cx="201" cy="530.6" r="2.5" fill="#cc5058" fill-opacity="0.75" stroke="#9c2029" stroke-width="0.6"/>
<circle cx="210.1" cy="532.7" r="2.5" fill="#cc5058" fill-opacity="0.75" stroke="#9c2029" stroke-width="0.6"/>
<circle cx="192.5" cy="534.1" r="2.5" fill="#cc5058" fill-opacity="0.75" stroke="#9c2029" stroke-width="0.6"/>
<circle cx="207.3" cy="543.2" r="2.5" fill="#cc5058" fill-opacity="0.75" stroke="#9c2029" stroke-width="0.6"/>
<circle cx="196" cy="551" r="2.5" fill="#cc5058" fill-opacity="0.75" stroke="#9c2029" stroke-width="0.6"/>
<circle cx="178" cy="455.2" r="2.5" fill="#cc5058" fill-opacity="0.75" stroke="#9c2029" stroke-width="0.6"/>
<circle cx="187.4" cy="468.1" r="2.5" fill="#cc5058" fill-opacity="0.75" stroke="#9c2029" stroke-width="0.6"/>
<circle cx="194.8" cy="467.8" r="2.5" fill="#cc5058" fill-opacity="0.75" stroke="#9c2029" stroke-width="0.6"/>
<circle cx="179.2" cy="474.6" r="2.5" fill="#cc5058" fill-opacity="0.75" stroke="#9c2029" stroke-width="0.6"/>
<circle cx="199" cy="506" r="2.5" fill="#cc5058" fill-opacity="0.75" stroke="#9c2029" stroke-width="0.6"/>
<circle cx="193.5" cy="509" r="2.5" fill="#cc5058" fill-opacity="0.75" stroke="#9c2029" stroke-width="0.6"/>
<circle cx="194" cy="497" r="2.5" fill="#cc5058" fill-opacity="0.75" stroke="#9c2029" stroke-width="0.6"/>
<circle cx="191" cy="480" r="2.5" fill="#cc5058" fill-opacity="0.75" stroke="#9c2029" stroke-width="0.6"/>
<circle cx="200" cy="489" r="2.5" fill="#cc5058" fill-opacity="0.75" stroke="#9c2029" stroke-width="0.6"/>
<circle cx="205" cy="495" r="2.5" fill="#cc5058" fill-opacity="0.75" stroke="#9c2029" stroke-width="0.6"/>
<circle cx="195" cy="540" r="2.5" fill="#cc5058" fill-opacity="0.75" stroke="#9c2029" stroke-width="0.6"/>
<circle cx="199" cy="546" r="2.5" fill="#cc5058" fill-opacity="0.75" stroke="#9c2029" stroke-width="0.6"/>
<circle cx="190.5" cy="546" r="2.5" fill="#cc5058" fill-opacity="0.75" stroke="#9c2029" stroke-width="0.6"/>
<line x1="32.4" y1="551.4" x2="249.3" y2="551.4" stroke="#3a3a3a" stroke-width="0.8" stroke-dasharray="2.5,2.6"/>
<line x1="107.5" y1="424" x2="107.5" y2="572.1" stroke="#3a3a3a" stroke-width="0.8" stroke-dasharray="2.5,2.6"/>
<line x1="173.7" y1="424" x2="173.7" y2="572.1" stroke="#3a3a3a" stroke-width="0.8" stroke-dasharray="2.5,2.6"/>
<g stroke="#111" stroke-width="0.9">
<line x1="86.5" y1="454.5" x2="91.3" y2="473.8"/>
<line x1="62" y1="465.8" x2="88" y2="482"/>
<line x1="95.7" y1="487.3" x2="119.4" y2="507.5"/>
<line x1="66.3" y1="506.1" x2="88.5" y2="498.7"/>
<line x1="102.9" y1="474.6" x2="101.4" y2="484"/>
<line x1="114.3" y1="490" x2="107.5" y2="487.5"/>
<line x1="80.5" y1="522.4" x2="101" y2="497.5"/>
<line x1="107" y1="500" x2="118.8" y2="528.5"/>
<line x1="138.8" y1="518" x2="153.8" y2="528.5"/>
<line x1="144.1" y1="445.4" x2="162.3" y2="460.5"/>
<line x1="170" y1="439.7" x2="177.9" y2="455.3"/>
<line x1="173.8" y1="468.8" x2="186.3" y2="503.5"/>
<line x1="167.1" y1="486.2" x2="173.8" y2="479.4"/>
<line x1="194.1" y1="461.1" x2="187.4" y2="468.1"/>
<line x1="201.5" y1="461.1" x2="194.8" y2="467.8"/>
<line x1="226.4" y1="440.1" x2="209.9" y2="454.6"/>
<line x1="227.1" y1="467.8" x2="223.5" y2="473.5"/>
<line x1="203.7" y1="485.2" x2="188.3" y2="477.5"/>
<line x1="208.5" y1="501.5" x2="195" y2="481.3"/>
</g>
<rect x="72.2" y="443.6" width="28.4" height="10.6" rx="2.2" fill="#fff" stroke="#666" stroke-width="1.05"/>
<text x="86.4" y="451.4" font-size="6.8" fill="#333" stroke="#333" text-anchor="middle" textLength="20.1" lengthAdjust="spacingAndGlyphs">GPR27</text>
<rect x="37" y="460" width="24.7" height="9.9" rx="2.2" fill="#fff" stroke="#666" stroke-width="1.05"/>
<text x="49.4" y="467.4" font-size="6.8" fill="#333" stroke="#333" text-anchor="middle" textLength="16.7" lengthAdjust="spacingAndGlyphs">CD1D</text>
<rect x="52.9" y="480.9" width="42.5" height="10.4" rx="2.2" fill="#fff" stroke="#666" stroke-width="1.05"/>
<text x="74.2" y="488.6" font-size="6.8" fill="#333" stroke="#333" text-anchor="middle" textLength="31.9" lengthAdjust="spacingAndGlyphs">CATSPER1</text>
<rect x="37" y="501.7" width="29" height="10.9" rx="2.2" fill="#fff" stroke="#666" stroke-width="1.05"/>
<text x="51.5" y="509.6" font-size="6.8" fill="#333" stroke="#333" text-anchor="middle" textLength="20.7" lengthAdjust="spacingAndGlyphs">ASGR2</text>
<rect x="103.3" y="465" width="33.5" height="10" rx="2.2" fill="#fff" stroke="#666" stroke-width="1.05"/>
<text x="120" y="472.5" font-size="6.8" fill="#333" stroke="#333" text-anchor="middle" textLength="24.8" lengthAdjust="spacingAndGlyphs">MIR3975</text>
<rect x="114.6" y="486.3" width="22.3" height="9.7" rx="2.2" fill="#fff" stroke="#666" stroke-width="1.05"/>
<text x="125.8" y="493.6" font-size="6.8" fill="#333" stroke="#333" text-anchor="middle" textLength="15.3" lengthAdjust="spacingAndGlyphs">FBP1</text>
<rect x="103.4" y="507.8" width="40" height="9.5" rx="2.2" fill="#fff" stroke="#666" stroke-width="1.05"/>
<text x="123.4" y="515" font-size="6.8" fill="#333" stroke="#333" text-anchor="middle" textLength="29.9" lengthAdjust="spacingAndGlyphs">SMARCD3</text>
<rect x="116.2" y="440" width="27.6" height="9.8" rx="2.2" fill="#fff" stroke="#666" stroke-width="1.05"/>
<text x="130" y="447.4" font-size="6.8" fill="#333" stroke="#333" text-anchor="middle" textLength="20.1" lengthAdjust="spacingAndGlyphs">HSPE1</text>
<rect x="155.3" y="430.1" width="27.8" height="9.3" rx="2.2" fill="#fff" stroke="#666" stroke-width="1.05"/>
<text x="169.2" y="437.2" font-size="6.8" fill="#333" stroke="#333" text-anchor="middle" textLength="20.1" lengthAdjust="spacingAndGlyphs">CYB5A</text>
<rect x="147.4" y="460.8" width="24.1" height="9.7" rx="2.2" fill="#fff" stroke="#666" stroke-width="1.05"/>
<text x="159.4" y="468.1" font-size="6.8" fill="#333" stroke="#333" text-anchor="middle" textLength="16.7" lengthAdjust="spacingAndGlyphs">AARS</text>
<rect x="148.2" y="482.6" width="18.6" height="10" rx="2.2" fill="#fff" stroke="#666" stroke-width="1.05"/>
<text x="157.5" y="490.1" font-size="6.8" fill="#333" stroke="#333" text-anchor="middle" textLength="11.9" lengthAdjust="spacingAndGlyphs">LBH</text>
<rect x="185" y="450.9" width="24" height="9.9" rx="2.2" fill="#fff" stroke="#666" stroke-width="1.05"/>
<text x="197" y="458.4" font-size="6.8" fill="#333" stroke="#333" text-anchor="middle" textLength="16.7" lengthAdjust="spacingAndGlyphs">ASNS</text>
<rect x="216" y="430" width="24" height="9.8" rx="2.2" fill="#fff" stroke="#666" stroke-width="1.05"/>
<text x="228" y="437.4" font-size="6.8" fill="#333" stroke="#333" text-anchor="middle" textLength="16" lengthAdjust="spacingAndGlyphs">HES6</text>
<rect x="210.6" y="457.3" width="34.4" height="10.2" rx="2.2" fill="#fff" stroke="#666" stroke-width="1.05"/>
<text x="227.8" y="464.9" font-size="6.8" fill="#333" stroke="#333" text-anchor="middle" textLength="24.8" lengthAdjust="spacingAndGlyphs">MYO18B</text>
<rect x="204" y="480.7" width="34.9" height="10" rx="2.2" fill="#fff" stroke="#666" stroke-width="1.05"/>
<text x="221.4" y="488.2" font-size="6.8" fill="#333" stroke="#333" text-anchor="middle" textLength="24.8" lengthAdjust="spacingAndGlyphs">MFSD2B</text>
<rect x="177" y="503.8" width="25" height="9.9" rx="2.2" fill="#fff" stroke="#666" stroke-width="1.05"/>
<text x="189.5" y="511.2" font-size="6.8" fill="#333" stroke="#333" text-anchor="middle" textLength="16" lengthAdjust="spacingAndGlyphs">PCK2</text>
<rect x="210.7" y="501.8" width="28.6" height="10" rx="2.2" fill="#fff" stroke="#666" stroke-width="1.05"/>
<text x="225" y="509.3" font-size="6.8" fill="#333" stroke="#333" text-anchor="middle" textLength="20.1" lengthAdjust="spacingAndGlyphs">TSPO2</text>
<rect x="60.3" y="522.7" width="32.9" height="11.2" rx="2.2" fill="#fff" stroke="#666" stroke-width="1.05"/>
<text x="76.8" y="530.8" font-size="6.8" fill="#333" stroke="#333" text-anchor="middle" textLength="23.8" lengthAdjust="spacingAndGlyphs">CLEC7A</text>
<rect x="103.4" y="528.8" width="31.3" height="9.7" rx="2.2" fill="#fff" stroke="#666" stroke-width="1.05"/>
<text x="119" y="536.1" font-size="6.8" fill="#333" stroke="#333" text-anchor="middle" textLength="23.8" lengthAdjust="spacingAndGlyphs">IL13RA1</text>
<rect x="148.4" y="528.8" width="13.2" height="9.7" rx="2.2" fill="#fff" stroke="#666" stroke-width="1.05"/>
<text x="155" y="536.1" font-size="6.8" fill="#333" stroke="#333" text-anchor="middle" textLength="7.1" lengthAdjust="spacingAndGlyphs">F5</text>
<text x="65.5" y="609.8" font-size="6.4" fill="#444" stroke="#444" textLength="30.8" lengthAdjust="spacingAndGlyphs">Expression</text>
<circle cx="105.2" cy="607.3" r="2.5" fill="#ababab" stroke="#808080" stroke-width="0.8"/>
<circle cx="167.7" cy="607.3" r="2.5" fill="#d8787e" stroke="#b0323b" stroke-width="0.8"/>
<circle cx="191.7" cy="607.3" r="2.5" fill="#7a72bf" stroke="#3a309a" stroke-width="0.8"/>
<text x="110.2" y="609.8" font-size="6.4" fill="#444" stroke="#444" textLength="48.8" lengthAdjust="spacingAndGlyphs">Below Threshold</text>
<text x="173.2" y="609.8" font-size="6.4" fill="#444" stroke="#444" textLength="9.3" lengthAdjust="spacingAndGlyphs">Up</text>
<text x="196.9" y="609.8" font-size="6.4" fill="#444" stroke="#444" textLength="16.9" lengthAdjust="spacingAndGlyphs">Down</text>
<text x="444.6" y="417.8" font-size="6.6" fill="#333" stroke="#333" text-anchor="middle" textLength="53.8" lengthAdjust="spacingAndGlyphs">Hallmark genesets</text>
<line x1="375.9" y1="421.3" x2="375.9" y2="595.6" stroke="#222" stroke-width="1.1"/>
<line x1="375.4" y1="595.2" x2="512.8" y2="595.2" stroke="#222" stroke-width="1.1"/>
<rect x="434.4" y="424.5" width="72.5" height="7" fill="#104a8c"/>
<line x1="373.4" y1="428" x2="375.9" y2="428" stroke="#222" stroke-width="0.9"/>
<text x="370.2" y="430.3" font-size="6.3" fill="#383838" stroke="#383838" text-anchor="end" textLength="61.1" lengthAdjust="spacingAndGlyphs">HEME METABOLISM</text>
<rect x="434.4" y="433.5" width="63.9" height="7" fill="#104a8c"/>
<line x1="373.4" y1="437" x2="375.9" y2="437" stroke="#222" stroke-width="0.9"/>
<text x="370.2" y="439.3" font-size="6.3" fill="#383838" stroke="#383838" text-anchor="end" textLength="40.1" lengthAdjust="spacingAndGlyphs">E2F TARGETS</text>
<rect x="434.4" y="442.5" width="62.2" height="7" fill="#104a8c"/>
<line x1="373.4" y1="446" x2="375.9" y2="446" stroke="#222" stroke-width="0.9"/>
<text x="370.2" y="448.3" font-size="6.3" fill="#383838" stroke="#383838" text-anchor="end" textLength="54.3" lengthAdjust="spacingAndGlyphs">MYC TARGETS_V1</text>
<rect x="434.4" y="451.4" width="57.6" height="7" fill="#104a8c"/>
<line x1="373.4" y1="454.9" x2="375.9" y2="454.9" stroke="#222" stroke-width="0.9"/>
<text x="370.2" y="457.2" font-size="6.3" fill="#383838" stroke="#383838" text-anchor="end" textLength="54.3" lengthAdjust="spacingAndGlyphs">MYC TARGETS_V2</text>
<rect x="434.4" y="460.4" width="57.6" height="7" fill="#104a8c"/>
<line x1="373.4" y1="463.9" x2="375.9" y2="463.9" stroke="#222" stroke-width="0.9"/>
<text x="370.2" y="466.2" font-size="6.3" fill="#383838" stroke="#383838" text-anchor="end" textLength="96.2" lengthAdjust="spacingAndGlyphs">OXIDATIVE PHOSPHORYLATION</text>
<rect x="434.4" y="469.4" width="57.6" height="7" fill="#104a8c"/>
<line x1="373.4" y1="472.9" x2="375.9" y2="472.9" stroke="#222" stroke-width="0.9"/>
<text x="370.2" y="475.2" font-size="6.3" fill="#383838" stroke="#383838" text-anchor="end" textLength="63.4" lengthAdjust="spacingAndGlyphs">MTORC1 SIGNALING</text>
<rect x="434.4" y="478.4" width="54.9" height="7" fill="#104a8c"/>
<line x1="373.4" y1="481.9" x2="375.9" y2="481.9" stroke="#222" stroke-width="0.9"/>
<text x="370.2" y="484.2" font-size="6.3" fill="#383838" stroke="#383838" text-anchor="end" textLength="100.4" lengthAdjust="spacingAndGlyphs">UNFOLDED PROTEIN_RESPONSE</text>
<rect x="434.4" y="487.4" width="54" height="7" fill="#104a8c"/>
<line x1="373.4" y1="490.9" x2="375.9" y2="490.9" stroke="#222" stroke-width="0.9"/>
<text x="370.2" y="493.2" font-size="6.3" fill="#383838" stroke="#383838" text-anchor="end" textLength="57.5" lengthAdjust="spacingAndGlyphs">G2M CHECKPOINT</text>
<rect x="434.4" y="496.3" width="50.3" height="7" fill="#104a8c"/>
<line x1="373.4" y1="499.8" x2="375.9" y2="499.8" stroke="#222" stroke-width="0.9"/>
<text x="370.2" y="502.1" font-size="6.3" fill="#383838" stroke="#383838" text-anchor="end" textLength="54.8" lengthAdjust="spacingAndGlyphs">UV RESPONSE_UP</text>
<rect x="434.4" y="505.3" width="50" height="7" fill="#104a8c"/>
<line x1="373.4" y1="508.8" x2="375.9" y2="508.8" stroke="#222" stroke-width="0.9"/>
<text x="370.2" y="511.1" font-size="6.3" fill="#383838" stroke="#383838" text-anchor="end" textLength="37" lengthAdjust="spacingAndGlyphs">DNA REPAIR</text>
<rect x="434.4" y="514.3" width="50" height="7" fill="#104a8c"/>
<line x1="373.4" y1="517.8" x2="375.9" y2="517.8" stroke="#222" stroke-width="0.9"/>
<text x="370.2" y="520.1" font-size="6.3" fill="#383838" stroke="#383838" text-anchor="end" textLength="46.3" lengthAdjust="spacingAndGlyphs">ADIPOGENESIS</text>
<rect x="434.4" y="523.3" width="47.7" height="7" fill="#104a8c"/>
<line x1="373.4" y1="526.8" x2="375.9" y2="526.8" stroke="#222" stroke-width="0.9"/>
<text x="370.2" y="529.1" font-size="6.3" fill="#383838" stroke="#383838" text-anchor="end" textLength="82.3" lengthAdjust="spacingAndGlyphs">XENOBIOTIC METABOLISM</text>
<rect x="434.4" y="532.3" width="46.7" height="7" fill="#104a8c"/>
<line x1="373.4" y1="535.8" x2="375.9" y2="535.8" stroke="#222" stroke-width="0.9"/>
<text x="370.2" y="538.1" font-size="6.3" fill="#383838" stroke="#383838" text-anchor="end" textLength="90.7" lengthAdjust="spacingAndGlyphs">ESTROGEN RESPONSE_EARLY</text>
<rect x="434.4" y="541.2" width="46" height="7" fill="#104a8c"/>
<line x1="373.4" y1="544.7" x2="375.9" y2="544.7" stroke="#222" stroke-width="0.9"/>
<text x="370.2" y="547" font-size="6.3" fill="#383838" stroke="#383838" text-anchor="end" textLength="80.1" lengthAdjust="spacingAndGlyphs">FATTY ACID_METABOLISM</text>
<rect x="434.4" y="550.2" width="45.3" height="7" fill="#104a8c"/>
<line x1="373.4" y1="553.7" x2="375.9" y2="553.7" stroke="#222" stroke-width="0.9"/>
<text x="370.2" y="556" font-size="6.3" fill="#383838" stroke="#383838" text-anchor="end" textLength="87.1" lengthAdjust="spacingAndGlyphs">ESTROGEN RESPONSE_LATE</text>
<rect x="390" y="559.2" width="44.4" height="7" fill="#104a8c"/>
<line x1="373.4" y1="562.7" x2="375.9" y2="562.7" stroke="#222" stroke-width="0.9"/>
<text x="370.2" y="565" font-size="6.3" fill="#383838" stroke="#383838" text-anchor="end" textLength="85" lengthAdjust="spacingAndGlyphs">INFLAMMATORY RESPONSE</text>
<rect x="389.1" y="568.2" width="45.3" height="7" fill="#104a8c"/>
<line x1="373.4" y1="571.7" x2="375.9" y2="571.7" stroke="#222" stroke-width="0.9"/>
<text x="370.2" y="574" font-size="6.3" fill="#383838" stroke="#383838" text-anchor="end" textLength="81.2" lengthAdjust="spacingAndGlyphs">IL6 JAK_STAT3_SIGNALING</text>
<rect x="385.4" y="577.2" width="49" height="7" fill="#104a8c"/>
<line x1="373.4" y1="580.7" x2="375.9" y2="580.7" stroke="#222" stroke-width="0.9"/>
<text x="370.2" y="583" font-size="6.3" fill="#383838" stroke="#383838" text-anchor="end" textLength="86.1" lengthAdjust="spacingAndGlyphs">TNFA SIGNALING_VIA_NFKB</text>
<rect x="382.8" y="586.1" width="51.6" height="7" fill="#104a8c"/>
<line x1="373.4" y1="589.6" x2="375.9" y2="589.6" stroke="#222" stroke-width="0.9"/>
<text x="370.2" y="591.9" font-size="6.3" fill="#383838" stroke="#383838" text-anchor="end" textLength="73.8" lengthAdjust="spacingAndGlyphs">ALLOGRAFT REJECTION</text>
<line x1="401.3" y1="595.2" x2="401.3" y2="597.8" stroke="#222" stroke-width="0.9"/>
<text x="401.3" y="606.6" font-size="6.4" fill="#444" stroke="#444" text-anchor="middle">−1</text>
<line x1="434.4" y1="595.2" x2="434.4" y2="597.8" stroke="#222" stroke-width="0.9"/>
<text x="434.4" y="606.6" font-size="6.4" fill="#444" stroke="#444" text-anchor="middle">0</text>
<line x1="467.5" y1="595.2" x2="467.5" y2="597.8" stroke="#222" stroke-width="0.9"/>
<text x="467.5" y="606.6" font-size="6.4" fill="#444" stroke="#444" text-anchor="middle">1</text>
<line x1="500.6" y1="595.2" x2="500.6" y2="597.8" stroke="#222" stroke-width="0.9"/>
<text x="500.6" y="606.6" font-size="6.4" fill="#444" stroke="#444" text-anchor="middle">2</text>
<text x="444.8" y="619.6" font-size="8.8" fill="#444" stroke="#444" text-anchor="middle" textLength="12.6" lengthAdjust="spacingAndGlyphs">NES</text>
<rect x="426.3" y="624.6" width="7.9" height="6.8" fill="#104a8c"/>
<text x="436" y="630.4" font-size="6.3" fill="#333" stroke="#333" textLength="31.3" lengthAdjust="spacingAndGlyphs">Significant</text>
<rect x="0.5" y="0.5" width="519" height="638" fill="none" stroke="#555" stroke-width="1"/>
</svg>
</body></html>
